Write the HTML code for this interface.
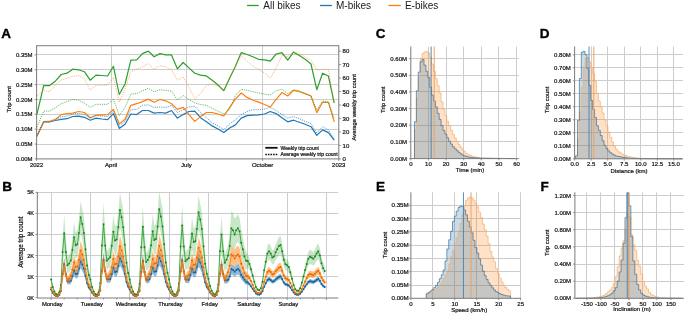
<!DOCTYPE html>
<html><head><meta charset="utf-8"><style>
html,body{margin:0;padding:0;background:#fff;}
svg{display:block;font-family:"Liberation Sans", sans-serif;will-change:transform;}
</style></head><body>
<svg width="685" height="315" viewBox="0 0 685 315">
<defs><clipPath id="clipA"><rect x="36.6" y="45.7" width="302.2" height="113.2"/></clipPath></defs>
<rect width="685" height="315" fill="#fff"/>
<line x1="247" y1="5.5" x2="258.7" y2="5.5" stroke="#2ca02c" stroke-width="1.3" />
<text x="263.3" y="9" font-size="10" text-anchor="start" font-weight="normal" fill="#1a1a1a" >All bikes</text>
<line x1="320" y1="5.5" x2="331.9" y2="5.5" stroke="#1f77b4" stroke-width="1.3" />
<text x="336" y="9" font-size="10" text-anchor="start" font-weight="normal" fill="#1a1a1a" >M-bikes</text>
<line x1="388.5" y1="5.5" x2="400.8" y2="5.5" stroke="#ff7f0e" stroke-width="1.3" />
<text x="404.9" y="9" font-size="10" text-anchor="start" font-weight="normal" fill="#1a1a1a" >E-bikes</text>
<text x="1.3" y="37.5" font-size="13.5" text-anchor="start" font-weight="bold" fill="#000" stroke="#000" stroke-width="0.35">A</text>
<text x="2.2" y="191" font-size="13.5" text-anchor="start" font-weight="bold" fill="#000" stroke="#000" stroke-width="0.35">B</text>
<text x="375.8" y="37.8" font-size="13.5" text-anchor="start" font-weight="bold" fill="#000" stroke="#000" stroke-width="0.35">C</text>
<text x="539.8" y="37.8" font-size="13.5" text-anchor="start" font-weight="bold" fill="#000" stroke="#000" stroke-width="0.35">D</text>
<text x="376.1" y="191.1" font-size="13.5" text-anchor="start" font-weight="bold" fill="#000" stroke="#000" stroke-width="0.35">E</text>
<text x="540.5" y="190.7" font-size="13.5" text-anchor="start" font-weight="bold" fill="#000" stroke="#000" stroke-width="0.35">F</text>
<line x1="36.6" y1="144.5" x2="338.8" y2="144.5" stroke="#cdcdcd" stroke-width="1" />
<line x1="36.6" y1="129.5" x2="338.8" y2="129.5" stroke="#cdcdcd" stroke-width="1" />
<line x1="36.6" y1="114.5" x2="338.8" y2="114.5" stroke="#cdcdcd" stroke-width="1" />
<line x1="36.6" y1="99.5" x2="338.8" y2="99.5" stroke="#cdcdcd" stroke-width="1" />
<line x1="36.6" y1="84.5" x2="338.8" y2="84.5" stroke="#cdcdcd" stroke-width="1" />
<line x1="36.6" y1="69.5" x2="338.8" y2="69.5" stroke="#cdcdcd" stroke-width="1" />
<line x1="36.6" y1="54.5" x2="338.8" y2="54.5" stroke="#cdcdcd" stroke-width="1" />
<line x1="111.5" y1="45.7" x2="111.5" y2="158.9" stroke="#cdcdcd" stroke-width="1" />
<line x1="186.5" y1="45.7" x2="186.5" y2="158.9" stroke="#cdcdcd" stroke-width="1" />
<line x1="262.5" y1="45.7" x2="262.5" y2="158.9" stroke="#cdcdcd" stroke-width="1" />
<rect x="36.6" y="45.7" width="302.2" height="113.2" fill="none" stroke="#7a7a7a" stroke-width="1"/>
<line x1="34.6" y1="158.9" x2="36.6" y2="158.9" stroke="#7a7a7a" stroke-width="0.8" />
<text x="32.6" y="161" font-size="6" text-anchor="end" font-weight="normal" fill="#1a1a1a" stroke="#1a1a1a" stroke-width="0.24" >0.00M</text>
<line x1="34.6" y1="144.05" x2="36.6" y2="144.05" stroke="#7a7a7a" stroke-width="0.8" />
<text x="32.6" y="146.15" font-size="6" text-anchor="end" font-weight="normal" fill="#1a1a1a" stroke="#1a1a1a" stroke-width="0.24" >0.05M</text>
<line x1="34.6" y1="129.19" x2="36.6" y2="129.19" stroke="#7a7a7a" stroke-width="0.8" />
<text x="32.6" y="131.29" font-size="6" text-anchor="end" font-weight="normal" fill="#1a1a1a" stroke="#1a1a1a" stroke-width="0.24" >0.10M</text>
<line x1="34.6" y1="114.33" x2="36.6" y2="114.33" stroke="#7a7a7a" stroke-width="0.8" />
<text x="32.6" y="116.43" font-size="6" text-anchor="end" font-weight="normal" fill="#1a1a1a" stroke="#1a1a1a" stroke-width="0.24" >0.15M</text>
<line x1="34.6" y1="99.48" x2="36.6" y2="99.48" stroke="#7a7a7a" stroke-width="0.8" />
<text x="32.6" y="101.58" font-size="6" text-anchor="end" font-weight="normal" fill="#1a1a1a" stroke="#1a1a1a" stroke-width="0.24" >0.20M</text>
<line x1="34.6" y1="84.62" x2="36.6" y2="84.62" stroke="#7a7a7a" stroke-width="0.8" />
<text x="32.6" y="86.72" font-size="6" text-anchor="end" font-weight="normal" fill="#1a1a1a" stroke="#1a1a1a" stroke-width="0.24" >0.25M</text>
<line x1="34.6" y1="69.77" x2="36.6" y2="69.77" stroke="#7a7a7a" stroke-width="0.8" />
<text x="32.6" y="71.87" font-size="6" text-anchor="end" font-weight="normal" fill="#1a1a1a" stroke="#1a1a1a" stroke-width="0.24" >0.30M</text>
<line x1="34.6" y1="54.91" x2="36.6" y2="54.91" stroke="#7a7a7a" stroke-width="0.8" />
<text x="32.6" y="57.01" font-size="6" text-anchor="end" font-weight="normal" fill="#1a1a1a" stroke="#1a1a1a" stroke-width="0.24" >0.35M</text>
<line x1="338.8" y1="158.9" x2="340.8" y2="158.9" stroke="#7a7a7a" stroke-width="0.8" />
<text x="342.6" y="161" font-size="6" text-anchor="start" font-weight="normal" fill="#1a1a1a" stroke="#1a1a1a" stroke-width="0.24" >0</text>
<line x1="338.8" y1="145.43" x2="340.8" y2="145.43" stroke="#7a7a7a" stroke-width="0.8" />
<text x="342.6" y="147.53" font-size="6" text-anchor="start" font-weight="normal" fill="#1a1a1a" stroke="#1a1a1a" stroke-width="0.24" >10</text>
<line x1="338.8" y1="131.95" x2="340.8" y2="131.95" stroke="#7a7a7a" stroke-width="0.8" />
<text x="342.6" y="134.05" font-size="6" text-anchor="start" font-weight="normal" fill="#1a1a1a" stroke="#1a1a1a" stroke-width="0.24" >20</text>
<line x1="338.8" y1="118.48" x2="340.8" y2="118.48" stroke="#7a7a7a" stroke-width="0.8" />
<text x="342.6" y="120.58" font-size="6" text-anchor="start" font-weight="normal" fill="#1a1a1a" stroke="#1a1a1a" stroke-width="0.24" >30</text>
<line x1="338.8" y1="105" x2="340.8" y2="105" stroke="#7a7a7a" stroke-width="0.8" />
<text x="342.6" y="107.1" font-size="6" text-anchor="start" font-weight="normal" fill="#1a1a1a" stroke="#1a1a1a" stroke-width="0.24" >40</text>
<line x1="338.8" y1="91.53" x2="340.8" y2="91.53" stroke="#7a7a7a" stroke-width="0.8" />
<text x="342.6" y="93.62" font-size="6" text-anchor="start" font-weight="normal" fill="#1a1a1a" stroke="#1a1a1a" stroke-width="0.24" >50</text>
<line x1="338.8" y1="78.05" x2="340.8" y2="78.05" stroke="#7a7a7a" stroke-width="0.8" />
<text x="342.6" y="80.15" font-size="6" text-anchor="start" font-weight="normal" fill="#1a1a1a" stroke="#1a1a1a" stroke-width="0.24" >60</text>
<line x1="338.8" y1="64.58" x2="340.8" y2="64.58" stroke="#7a7a7a" stroke-width="0.8" />
<text x="342.6" y="66.68" font-size="6" text-anchor="start" font-weight="normal" fill="#1a1a1a" stroke="#1a1a1a" stroke-width="0.24" >70</text>
<line x1="338.8" y1="51.1" x2="340.8" y2="51.1" stroke="#7a7a7a" stroke-width="0.8" />
<text x="342.6" y="53.2" font-size="6" text-anchor="start" font-weight="normal" fill="#1a1a1a" stroke="#1a1a1a" stroke-width="0.24" >80</text>
<line x1="36.6" y1="158.9" x2="36.6" y2="160.9" stroke="#7a7a7a" stroke-width="0.8" />
<text x="36.6" y="166.7" font-size="6" text-anchor="middle" font-weight="normal" fill="#1a1a1a" stroke="#1a1a1a" stroke-width="0.24" >2022</text>
<line x1="111.12" y1="158.9" x2="111.12" y2="160.9" stroke="#7a7a7a" stroke-width="0.8" />
<text x="111.12" y="166.7" font-size="6" text-anchor="middle" font-weight="normal" fill="#1a1a1a" stroke="#1a1a1a" stroke-width="0.24" >April</text>
<line x1="186.46" y1="158.9" x2="186.46" y2="160.9" stroke="#7a7a7a" stroke-width="0.8" />
<text x="186.46" y="166.7" font-size="6" text-anchor="middle" font-weight="normal" fill="#1a1a1a" stroke="#1a1a1a" stroke-width="0.24" >July</text>
<line x1="262.63" y1="158.9" x2="262.63" y2="160.9" stroke="#7a7a7a" stroke-width="0.8" />
<text x="262.63" y="166.7" font-size="6" text-anchor="middle" font-weight="normal" fill="#1a1a1a" stroke="#1a1a1a" stroke-width="0.24" >October</text>
<line x1="338.8" y1="158.9" x2="338.8" y2="160.9" stroke="#7a7a7a" stroke-width="0.8" />
<text x="338.8" y="166.7" font-size="6" text-anchor="middle" font-weight="normal" fill="#1a1a1a" stroke="#1a1a1a" stroke-width="0.24" >2023</text>
<text x="10.6" y="99.3" font-size="6" text-anchor="middle" font-weight="normal" fill="#1a1a1a" stroke="#1a1a1a" stroke-width="0.24" transform="rotate(-90 10.6 99.3)" >Trip count</text>
<text x="355.8" y="107.3" font-size="5.8" text-anchor="middle" font-weight="normal" fill="#1a1a1a" stroke="#1a1a1a" stroke-width="0.24" transform="rotate(-90 355.8 107.3)" >Average weekly trip count</text>
<g clip-path="url(#clipA)">
<polyline points="36.9,136.2 43.71,121.8 49.52,121.8 55.33,120.5 61.14,119.3 66.95,118.7 72.76,116.5 78.57,116.2 84.38,117.3 90.19,120.2 96,118.1 101.81,119 107.62,119.7 113.43,113.6 119.24,128.4 125.05,124.3 130.86,114 136.67,114.6 142.48,110.5 148.29,110.5 154.1,113.1 159.91,112.5 165.72,113.1 171.53,110.5 177.34,118.1 183.15,114.6 188.96,111.5 194.77,111.1 200.58,117.7 206.39,121.8 212.2,125.9 218.01,129 223.82,132.5 229.63,128 235.44,124.9 241.25,118.1 247.06,115.6 252.87,115.2 258.68,114.8 264.49,114 270.3,111.5 276.11,113.6 281.92,117.7 287.73,121.8 293.54,120.2 299.35,122.2 305.16,124.3 310.97,126.7 316.78,135.4 322.59,129.9 328.4,132.6 334.21,140.2" fill="none" stroke="#1f77b4" stroke-width="1.2" stroke-linejoin="round" />
<polyline points="36.9,136.2 43.71,121.8 49.52,121.8 55.33,119.7 61.14,114.6 66.95,113.5 72.76,113.1 78.57,111.5 84.38,112.5 90.19,117.7 96,115.2 101.81,114.8 107.62,114.6 113.43,109.4 119.24,123.9 125.05,119.3 130.86,105.3 136.67,103.7 142.48,101.6 148.29,99.1 154.1,102.2 159.91,99.5 165.72,100.8 171.53,103.7 177.34,109.4 183.15,107.4 188.96,114.6 194.77,121.4 200.58,116.6 206.39,112.5 212.2,112.5 218.01,114 223.82,116 229.63,107.4 235.44,99.1 241.25,93 247.06,97.4 252.87,100.2 258.68,102.1 264.49,104.5 270.3,107 276.11,99.3 281.92,92.6 287.73,96 293.54,90.3 299.35,91.7 305.16,93.6 310.97,96 316.78,112.6 322.59,102.3 328.4,102.3 334.21,121.9" fill="none" stroke="#ff7f0e" stroke-width="1.2" stroke-linejoin="round" />
<polyline points="36.9,114.3 43.71,85.5 49.52,85.6 55.33,81.2 61.14,74.5 66.95,73.2 72.76,69.2 78.57,69.8 84.38,71.7 90.19,80.2 96,75.1 101.81,75.5 107.62,76 113.43,66.3 119.24,94.5 125.05,84 130.86,60.2 136.67,59.9 142.48,53.6 148.29,51.1 154.1,56.8 159.91,53.6 165.72,54.9 171.53,54.9 177.34,68.8 183.15,62.5 188.96,67.9 194.77,73.2 200.58,75.1 206.39,75.9 212.2,80.2 218.01,85 223.82,90.7 229.63,78.3 235.44,66.3 241.25,52.6 247.06,54.5 252.87,56.8 258.68,59.3 264.49,59.9 270.3,61.2 276.11,54 281.92,52.6 287.73,60.2 293.54,52.2 299.35,55.5 305.16,59.3 310.97,64 316.78,89.7 322.59,73.2 328.4,76 334.21,103.1" fill="none" stroke="#2ca02c" stroke-width="1.2" stroke-linejoin="round" />
<polyline points="36.9,136 43.71,121.5 49.52,121 55.33,119 61.14,117 66.95,116 72.76,114 78.57,113.5 84.38,114.6 90.19,118 96,115.5 101.81,116 107.62,116.5 113.43,111.5 119.24,125.9 125.05,121.4 130.86,109.8 136.67,109.4 142.48,105.3 148.29,104.9 154.1,107.4 159.91,107 165.72,107.4 171.53,105.3 177.34,112.5 183.15,109.8 188.96,107 194.77,106.3 200.58,112.5 206.39,117.7 212.2,122.8 218.01,125.9 223.82,129.6 229.63,123.9 235.44,119.7 241.25,114.6 247.06,111.5 252.87,109.8 258.68,109.8 264.49,109 270.3,107.4 276.11,110.5 281.92,114.6 287.73,118.1 293.54,116.6 299.35,118.7 305.16,121.4 310.97,123.5 316.78,133 322.59,126.7 328.4,129.9 334.21,139.4" fill="none" stroke="#1f77b4" stroke-width="0.9" stroke-linejoin="round" stroke-dasharray="1.1,1.1" stroke-opacity="0.85"/>
<polyline points="36.9,127.1 43.71,111.1 49.52,111.1 55.33,107.8 61.14,103.7 66.95,101.6 72.76,99.5 78.57,100.2 84.38,103.2 90.19,107.4 96,104.3 101.81,104.3 107.62,104.3 113.43,99.2 119.24,115.6 125.05,107.4 130.86,94.1 136.67,93.6 142.48,90.7 148.29,88.4 154.1,91.7 159.91,89.8 165.72,90.3 171.53,91.1 177.34,100.2 183.15,95.5 188.96,99.7 194.77,102.9 200.58,104.6 206.39,105.3 212.2,108.4 218.01,111.1 223.82,114 229.63,109.4 235.44,95.5 241.25,89.2 247.06,90.3 252.87,91.7 258.68,93 264.49,94.1 270.3,94.9 276.11,90.7 281.92,89.2 287.73,93.6 293.54,89.8 299.35,90.7 305.16,93.6 310.97,96 316.78,110 322.59,101 328.4,102 334.21,118" fill="none" stroke="#2ca02c" stroke-width="0.9" stroke-linejoin="round" stroke-dasharray="1.1,1.1" stroke-opacity="0.85"/>
<polyline points="36.9,96 43.71,90.7 49.52,91.7 55.33,85 61.14,80.2 66.95,78 72.76,76.4 78.57,75.5 84.38,79.3 90.19,90.1 96,85.4 101.81,85.2 107.62,85 113.43,77.5 119.24,102.1 125.05,88.8 130.86,71.7 136.67,68.8 142.48,66.9 148.29,63.7 154.1,69.4 159.91,65.6 165.72,66.9 171.53,69.8 177.34,80.2 183.15,77 188.96,87.5 194.77,98.7 200.58,93.6 206.39,85.4 212.2,84 218.01,86 223.82,89.8 229.63,77.4 235.44,66 241.25,55.5 247.06,61.2 252.87,66 258.68,69.4 264.49,73 270.3,78.3 276.11,67.9 281.92,55.5 287.73,56.5 293.54,51.7 299.35,53.6 305.16,56.8 310.97,60.2 316.78,70 322.59,69.4 328.4,69.4 334.21,103" fill="none" stroke="#ff7f0e" stroke-width="0.9" stroke-linejoin="round" stroke-dasharray="1.1,1.1" stroke-opacity="0.65"/>
</g>
<line x1="265.3" y1="147.8" x2="277.6" y2="147.8" stroke="#111" stroke-width="1.8" />
<text x="280.6" y="149.9" font-size="5" text-anchor="start" font-weight="normal" fill="#1a1a1a" stroke="#1a1a1a" stroke-width="0.24" >Weekly trip count</text>
<line x1="265.3" y1="154.5" x2="277.6" y2="154.5" stroke="#111" stroke-width="1.3" stroke-dasharray="1.6,1"/>
<text x="280.6" y="156.4" font-size="5" text-anchor="start" font-weight="normal" fill="#1a1a1a" stroke="#1a1a1a" stroke-width="0.24" >Average weekly trip count</text>
<line x1="37.3" y1="276.5" x2="338.3" y2="276.5" stroke="#cdcdcd" stroke-width="1" />
<line x1="37.3" y1="255.5" x2="338.3" y2="255.5" stroke="#cdcdcd" stroke-width="1" />
<line x1="37.3" y1="234.5" x2="338.3" y2="234.5" stroke="#cdcdcd" stroke-width="1" />
<line x1="37.3" y1="213.5" x2="338.3" y2="213.5" stroke="#cdcdcd" stroke-width="1" />
<line x1="37.3" y1="192.5" x2="338.3" y2="192.5" stroke="#cdcdcd" stroke-width="1" />
<line x1="51.5" y1="192" x2="51.5" y2="298" stroke="#cdcdcd" stroke-width="1" />
<line x1="90.5" y1="192" x2="90.5" y2="298" stroke="#cdcdcd" stroke-width="1" />
<line x1="129.5" y1="192" x2="129.5" y2="298" stroke="#cdcdcd" stroke-width="1" />
<line x1="169.5" y1="192" x2="169.5" y2="298" stroke="#cdcdcd" stroke-width="1" />
<line x1="208.5" y1="192" x2="208.5" y2="298" stroke="#cdcdcd" stroke-width="1" />
<line x1="247.5" y1="192" x2="247.5" y2="298" stroke="#cdcdcd" stroke-width="1" />
<line x1="287.5" y1="192" x2="287.5" y2="298" stroke="#cdcdcd" stroke-width="1" />
<line x1="326.5" y1="192" x2="326.5" y2="298" stroke="#cdcdcd" stroke-width="1" />
<line x1="37.3" y1="192" x2="37.3" y2="298" stroke="#7a7a7a" stroke-width="1" />
<line x1="37.3" y1="298" x2="338.3" y2="298" stroke="#7a7a7a" stroke-width="1" />
<line x1="35.5" y1="297.6" x2="37.3" y2="297.6" stroke="#7a7a7a" stroke-width="0.8" />
<text x="34.1" y="299.6" font-size="5.6" text-anchor="end" font-weight="normal" fill="#1a1a1a" stroke="#1a1a1a" stroke-width="0.24" >0K</text>
<line x1="35.5" y1="276.55" x2="37.3" y2="276.55" stroke="#7a7a7a" stroke-width="0.8" />
<text x="34.1" y="278.55" font-size="5.6" text-anchor="end" font-weight="normal" fill="#1a1a1a" stroke="#1a1a1a" stroke-width="0.24" >1K</text>
<line x1="35.5" y1="255.5" x2="37.3" y2="255.5" stroke="#7a7a7a" stroke-width="0.8" />
<text x="34.1" y="257.5" font-size="5.6" text-anchor="end" font-weight="normal" fill="#1a1a1a" stroke="#1a1a1a" stroke-width="0.24" >2K</text>
<line x1="35.5" y1="234.45" x2="37.3" y2="234.45" stroke="#7a7a7a" stroke-width="0.8" />
<text x="34.1" y="236.45" font-size="5.6" text-anchor="end" font-weight="normal" fill="#1a1a1a" stroke="#1a1a1a" stroke-width="0.24" >3K</text>
<line x1="35.5" y1="213.4" x2="37.3" y2="213.4" stroke="#7a7a7a" stroke-width="0.8" />
<text x="34.1" y="215.4" font-size="5.6" text-anchor="end" font-weight="normal" fill="#1a1a1a" stroke="#1a1a1a" stroke-width="0.24" >4K</text>
<line x1="35.5" y1="192.35" x2="37.3" y2="192.35" stroke="#7a7a7a" stroke-width="0.8" />
<text x="34.1" y="194.35" font-size="5.6" text-anchor="end" font-weight="normal" fill="#1a1a1a" stroke="#1a1a1a" stroke-width="0.24" >5K</text>
<line x1="51.1" y1="298" x2="51.1" y2="300" stroke="#7a7a7a" stroke-width="0.8" />
<line x1="64.21" y1="298" x2="64.21" y2="299.4" stroke="#7a7a7a" stroke-width="0.8" />
<line x1="77.32" y1="298" x2="77.32" y2="299.4" stroke="#7a7a7a" stroke-width="0.8" />
<line x1="90.43" y1="298" x2="90.43" y2="300" stroke="#7a7a7a" stroke-width="0.8" />
<line x1="103.54" y1="298" x2="103.54" y2="299.4" stroke="#7a7a7a" stroke-width="0.8" />
<line x1="116.65" y1="298" x2="116.65" y2="299.4" stroke="#7a7a7a" stroke-width="0.8" />
<line x1="129.76" y1="298" x2="129.76" y2="300" stroke="#7a7a7a" stroke-width="0.8" />
<line x1="142.87" y1="298" x2="142.87" y2="299.4" stroke="#7a7a7a" stroke-width="0.8" />
<line x1="155.98" y1="298" x2="155.98" y2="299.4" stroke="#7a7a7a" stroke-width="0.8" />
<line x1="169.09" y1="298" x2="169.09" y2="300" stroke="#7a7a7a" stroke-width="0.8" />
<line x1="182.2" y1="298" x2="182.2" y2="299.4" stroke="#7a7a7a" stroke-width="0.8" />
<line x1="195.31" y1="298" x2="195.31" y2="299.4" stroke="#7a7a7a" stroke-width="0.8" />
<line x1="208.42" y1="298" x2="208.42" y2="300" stroke="#7a7a7a" stroke-width="0.8" />
<line x1="221.53" y1="298" x2="221.53" y2="299.4" stroke="#7a7a7a" stroke-width="0.8" />
<line x1="234.64" y1="298" x2="234.64" y2="299.4" stroke="#7a7a7a" stroke-width="0.8" />
<line x1="247.75" y1="298" x2="247.75" y2="300" stroke="#7a7a7a" stroke-width="0.8" />
<line x1="260.86" y1="298" x2="260.86" y2="299.4" stroke="#7a7a7a" stroke-width="0.8" />
<line x1="273.97" y1="298" x2="273.97" y2="299.4" stroke="#7a7a7a" stroke-width="0.8" />
<line x1="287.08" y1="298" x2="287.08" y2="300" stroke="#7a7a7a" stroke-width="0.8" />
<line x1="300.19" y1="298" x2="300.19" y2="299.4" stroke="#7a7a7a" stroke-width="0.8" />
<line x1="313.3" y1="298" x2="313.3" y2="299.4" stroke="#7a7a7a" stroke-width="0.8" />
<line x1="326.41" y1="298" x2="326.41" y2="300" stroke="#7a7a7a" stroke-width="0.8" />
<text x="52.4" y="305.7" font-size="5.85" text-anchor="middle" font-weight="normal" fill="#1a1a1a" stroke="#1a1a1a" stroke-width="0.24" >Monday</text>
<text x="91.73" y="305.7" font-size="5.85" text-anchor="middle" font-weight="normal" fill="#1a1a1a" stroke="#1a1a1a" stroke-width="0.24" >Tuesday</text>
<text x="131.06" y="305.7" font-size="5.85" text-anchor="middle" font-weight="normal" fill="#1a1a1a" stroke="#1a1a1a" stroke-width="0.24" >Wednesday</text>
<text x="170.39" y="305.7" font-size="5.85" text-anchor="middle" font-weight="normal" fill="#1a1a1a" stroke="#1a1a1a" stroke-width="0.24" >Thursday</text>
<text x="209.72" y="305.7" font-size="5.85" text-anchor="middle" font-weight="normal" fill="#1a1a1a" stroke="#1a1a1a" stroke-width="0.24" >Friday</text>
<text x="249.05" y="305.7" font-size="5.85" text-anchor="middle" font-weight="normal" fill="#1a1a1a" stroke="#1a1a1a" stroke-width="0.24" >Saturday</text>
<text x="288.38" y="305.7" font-size="5.85" text-anchor="middle" font-weight="normal" fill="#1a1a1a" stroke="#1a1a1a" stroke-width="0.24" >Sunday</text>
<text x="23.4" y="242" font-size="6.3" text-anchor="middle" font-weight="normal" fill="#1a1a1a" stroke="#1a1a1a" stroke-width="0.24" transform="rotate(-90 23.4 242)" >Average trip count</text>
<polygon points="51.1,274.97 52.74,284.44 54.38,289.97 56.02,293.13 57.66,293.92 59.29,290.76 60.93,281.81 62.57,238.79 64.21,214.67 65.85,238.79 67.49,257.08 69.13,254.97 70.77,251.29 72.4,238.13 74.04,222.08 75.68,232.08 77.32,231.03 78.96,220.05 80.6,201.11 82.24,209.19 83.88,216.82 85.51,237.08 87.15,257.61 88.79,269.45 90.43,274.97 92.07,284.44 93.71,289.97 95.35,293.13 96.98,293.92 98.62,290.76 100.26,279.6 101.9,230.56 103.54,203.06 105.18,230.56 106.82,251.41 108.46,249.01 110.09,247.12 111.73,232.78 113.37,215.29 115.01,226.19 116.65,225.04 118.29,213.07 119.93,192.42 121.57,201.23 123.21,209.55 124.84,231.63 126.48,254.01 128.12,266.91 129.76,274.97 131.4,284.44 133.04,289.97 134.68,293.13 136.31,293.92 137.95,290.76 139.59,280.23 141.23,232.91 142.87,206.38 144.51,232.91 146.15,253.03 147.79,250.71 149.42,246.66 151.06,232.19 152.7,214.53 154.34,225.53 155.98,224.37 157.62,212.3 159.26,191.46 160.9,200.35 162.53,208.74 164.17,231.03 165.81,253.61 167.45,266.63 169.09,274.97 170.73,284.44 172.37,289.97 174.01,293.13 175.65,293.92 177.28,290.76 178.92,279.92 180.56,231.73 182.2,204.72 183.84,231.73 185.48,252.22 187.12,249.86 188.75,248.51 190.39,234.57 192.03,217.55 193.67,228.15 195.31,227.04 196.95,215.4 198.59,195.32 200.23,203.89 201.86,211.97 203.5,233.45 205.14,255.21 206.78,267.76 208.42,273.92 210.06,283.13 211.7,289.18 213.34,292.6 214.97,293.65 216.61,290.76 218.25,281.29 219.89,237.98 221.53,216.29 223.17,237.98 224.81,254.18 226.45,250.24 228.08,244.98 229.72,233.13 231.36,210.77 233,213.4 234.64,218.66 236.28,216.77 237.92,214.24 239.56,218.03 241.19,229.19 242.83,237.08 244.47,246.29 246.11,251.55 247.75,254.61 249.39,258.03 251.03,264.21 252.67,271.63 254.31,279.05 255.94,285.23 257.58,288.2 259.22,288.94 260.86,286.47 262.5,279.05 264.14,265.45 265.78,255.55 267.41,245.66 269.05,243.19 270.69,245.66 272.33,250.61 273.97,249.37 275.61,244.42 277.25,240.71 278.89,237 280.52,235.77 282.16,243.19 283.8,253.08 285.44,258.52 287.08,259.69 288.72,261.74 290.36,267.92 292,275.34 293.63,282.76 295.27,287.71 296.91,289.44 298.55,289.44 300.19,286.47 301.83,280.29 303.47,272.87 305.11,265.2 306.75,258.03 308.38,251.84 310.02,249.62 311.66,250.61 313.3,252.09 314.94,249.37 316.58,245.66 318.22,243.19 319.86,248.13 321.49,257.28 323.13,262.97 324.77,266.44 324.77,275.72 323.13,273.29 321.49,269.29 319.86,262.87 318.22,259.39 316.58,261.13 314.94,263.74 313.3,265.65 311.66,264.6 310.02,263.91 308.38,265.47 306.75,269.81 305.11,274.85 303.47,280.23 301.83,285.44 300.19,289.79 298.55,291.87 296.91,291.87 295.27,290.65 293.63,287.18 292,281.97 290.36,276.76 288.72,272.42 287.08,270.98 285.44,270.16 283.8,266.34 282.16,259.39 280.52,254.18 278.89,255.05 277.25,257.66 275.61,260.26 273.97,263.74 272.33,264.6 270.69,261.13 269.05,259.39 267.41,261.13 265.78,268.08 264.14,275.02 262.5,284.58 260.86,289.79 259.22,291.52 257.58,291 255.94,288.92 254.31,284.58 252.67,279.37 251.03,274.16 249.39,269.81 247.75,267.42 246.11,269.97 244.47,266.81 242.83,261.29 241.19,256.55 239.56,244.55 237.92,242.03 236.28,243.71 234.64,250.24 233,247.08 231.36,245.5 229.72,258.92 228.08,266.03 226.45,269.18 224.81,271.55 223.17,264.6 221.53,252.61 219.89,264.6 218.25,287.81 216.61,293.5 214.97,295.23 213.34,294.6 211.7,292.55 210.06,288.92 208.42,283.39 206.78,279.69 205.14,272.16 203.5,259.11 201.86,246.22 200.23,235.12 198.59,229.41 196.95,242.8 195.31,255.26 193.67,255.93 192.03,249.57 190.39,259.78 188.75,268.15 187.12,268.96 185.48,270.37 183.84,261.15 182.2,246.2 180.56,261.15 178.92,286.99 177.28,293.5 175.65,295.39 174.01,294.92 172.37,293.02 170.73,289.71 169.09,284.02 167.45,279.02 165.81,271.2 164.17,257.66 162.53,244.29 160.9,232.77 159.26,226.84 157.62,240.73 155.98,253.66 154.34,254.36 152.7,247.76 151.06,258.35 149.42,267.04 147.79,269.47 146.15,270.86 144.51,261.8 142.87,247.12 141.23,261.8 139.59,287.18 137.95,293.5 136.31,295.39 134.68,294.92 133.04,293.02 131.4,289.71 129.76,284.02 128.12,279.19 126.48,271.44 124.84,258.02 123.21,244.77 121.57,233.36 119.93,227.48 118.29,241.25 116.65,254.06 115.01,254.75 113.37,248.21 111.73,258.71 110.09,267.31 108.46,268.44 106.82,269.88 105.18,260.5 103.54,245.28 101.9,260.5 100.26,286.8 98.62,293.5 96.98,295.39 95.35,294.92 93.71,293.02 92.07,289.71 90.43,284.02 88.79,280.71 87.15,273.6 85.51,261.29 83.88,249.13 82.24,238.66 80.6,233.27 78.96,245.9 77.32,257.66 75.68,258.29 74.04,252.29 72.4,261.92 70.77,269.81 69.13,272.02 67.49,273.29 65.85,265.05 64.21,251.71 62.57,265.05 60.93,288.13 59.29,293.5 57.66,295.39 56.02,294.92 54.38,293.02 52.74,289.71 51.1,284.02" fill="#2ca02c" stroke="none" fill-opacity="0.26"/>
<polyline points="51.1,279.5 52.74,287.08 54.38,291.5 56.02,294.02 57.66,294.65 59.29,292.13 60.93,284.97 62.57,251.92 64.21,233.19 65.85,251.92 67.49,265.18 69.13,263.5 70.77,260.55 72.4,250.03 74.04,237.19 75.68,245.19 77.32,244.34 78.96,232.98 80.6,217.19 82.24,223.93 83.88,232.98 85.51,249.19 87.15,265.6 88.79,275.08 90.43,279.5 92.07,287.08 93.71,291.5 95.35,294.02 96.98,294.65 98.62,292.13 100.26,283.2 101.9,245.53 103.54,224.17 105.18,245.53 106.82,260.64 108.46,258.72 110.09,257.22 111.73,245.75 113.37,231.75 115.01,240.47 116.65,239.55 118.29,227.16 119.93,209.95 121.57,217.29 123.21,227.16 124.84,244.83 126.48,262.72 128.12,273.05 129.76,279.5 131.4,287.08 133.04,291.5 134.68,294.02 136.31,294.65 137.95,292.13 139.59,283.71 141.23,247.35 142.87,226.75 144.51,247.35 146.15,261.94 147.79,260.09 149.42,256.85 151.06,245.27 152.7,231.15 154.34,239.94 155.98,239.02 157.62,226.51 159.26,209.15 160.9,216.56 162.53,226.51 164.17,244.34 165.81,262.4 167.45,272.82 169.09,279.5 170.73,287.08 172.37,291.5 174.01,294.02 175.65,294.65 177.28,292.13 178.92,283.45 180.56,246.44 182.2,225.46 183.84,246.44 185.48,261.29 187.12,259.41 188.75,258.33 190.39,247.17 192.03,233.56 193.67,242.04 195.31,241.15 196.95,229.1 198.59,212.36 200.23,219.5 201.86,229.1 203.5,246.28 205.14,263.68 206.78,273.73 208.42,278.66 210.06,286.02 211.7,290.86 213.34,293.6 214.97,294.44 216.61,292.13 218.25,284.55 219.89,251.29 221.53,234.45 223.17,251.29 224.81,262.87 226.45,259.71 228.08,255.5 229.72,246.03 231.36,228.14 233,230.24 234.64,234.45 236.28,230.24 237.92,228.14 239.56,231.29 241.19,242.87 242.83,249.19 244.47,256.55 246.11,260.76 247.75,261.02 249.39,263.92 251.03,269.18 252.67,275.5 254.31,281.81 255.94,287.08 257.58,289.6 259.22,290.23 260.86,288.13 262.5,281.81 264.14,270.24 265.78,261.81 267.41,253.4 269.05,251.29 270.69,253.4 272.33,257.61 273.97,256.55 275.61,252.34 277.25,249.19 278.89,246.03 280.52,244.98 282.16,251.29 283.8,259.71 285.44,264.34 287.08,265.34 288.72,267.08 290.36,272.34 292,278.66 293.63,284.97 295.27,289.18 296.91,290.65 298.55,290.65 300.19,288.13 301.83,282.87 303.47,276.55 305.11,270.02 306.75,263.92 308.38,258.66 310.02,256.76 311.66,257.61 313.3,258.87 314.94,256.55 316.58,253.4 318.22,251.29 319.86,255.5 321.49,263.29 323.13,268.13 324.77,271.08" fill="none" stroke="#2ca02c" stroke-width="0.85" stroke-linejoin="round" />
<circle cx="51.1" cy="279.5" r="1.0" fill="#23802a"/>
<circle cx="52.74" cy="287.08" r="1.0" fill="#23802a"/>
<circle cx="54.38" cy="291.5" r="1.0" fill="#23802a"/>
<circle cx="56.02" cy="294.02" r="1.0" fill="#23802a"/>
<circle cx="57.66" cy="294.65" r="1.0" fill="#23802a"/>
<circle cx="59.29" cy="292.13" r="1.0" fill="#23802a"/>
<circle cx="60.93" cy="284.97" r="1.0" fill="#23802a"/>
<circle cx="62.57" cy="251.92" r="1.0" fill="#23802a"/>
<circle cx="64.21" cy="233.19" r="1.0" fill="#23802a"/>
<circle cx="65.85" cy="251.92" r="1.0" fill="#23802a"/>
<circle cx="67.49" cy="265.18" r="1.0" fill="#23802a"/>
<circle cx="69.13" cy="263.5" r="1.0" fill="#23802a"/>
<circle cx="70.77" cy="260.55" r="1.0" fill="#23802a"/>
<circle cx="72.4" cy="250.03" r="1.0" fill="#23802a"/>
<circle cx="74.04" cy="237.19" r="1.0" fill="#23802a"/>
<circle cx="75.68" cy="245.19" r="1.0" fill="#23802a"/>
<circle cx="77.32" cy="244.34" r="1.0" fill="#23802a"/>
<circle cx="78.96" cy="232.98" r="1.0" fill="#23802a"/>
<circle cx="80.6" cy="217.19" r="1.0" fill="#23802a"/>
<circle cx="82.24" cy="223.93" r="1.0" fill="#23802a"/>
<circle cx="83.88" cy="232.98" r="1.0" fill="#23802a"/>
<circle cx="85.51" cy="249.19" r="1.0" fill="#23802a"/>
<circle cx="87.15" cy="265.6" r="1.0" fill="#23802a"/>
<circle cx="88.79" cy="275.08" r="1.0" fill="#23802a"/>
<circle cx="90.43" cy="279.5" r="1.0" fill="#23802a"/>
<circle cx="92.07" cy="287.08" r="1.0" fill="#23802a"/>
<circle cx="93.71" cy="291.5" r="1.0" fill="#23802a"/>
<circle cx="95.35" cy="294.02" r="1.0" fill="#23802a"/>
<circle cx="96.98" cy="294.65" r="1.0" fill="#23802a"/>
<circle cx="98.62" cy="292.13" r="1.0" fill="#23802a"/>
<circle cx="100.26" cy="283.2" r="1.0" fill="#23802a"/>
<circle cx="101.9" cy="245.53" r="1.0" fill="#23802a"/>
<circle cx="103.54" cy="224.17" r="1.0" fill="#23802a"/>
<circle cx="105.18" cy="245.53" r="1.0" fill="#23802a"/>
<circle cx="106.82" cy="260.64" r="1.0" fill="#23802a"/>
<circle cx="108.46" cy="258.72" r="1.0" fill="#23802a"/>
<circle cx="110.09" cy="257.22" r="1.0" fill="#23802a"/>
<circle cx="111.73" cy="245.75" r="1.0" fill="#23802a"/>
<circle cx="113.37" cy="231.75" r="1.0" fill="#23802a"/>
<circle cx="115.01" cy="240.47" r="1.0" fill="#23802a"/>
<circle cx="116.65" cy="239.55" r="1.0" fill="#23802a"/>
<circle cx="118.29" cy="227.16" r="1.0" fill="#23802a"/>
<circle cx="119.93" cy="209.95" r="1.0" fill="#23802a"/>
<circle cx="121.57" cy="217.29" r="1.0" fill="#23802a"/>
<circle cx="123.21" cy="227.16" r="1.0" fill="#23802a"/>
<circle cx="124.84" cy="244.83" r="1.0" fill="#23802a"/>
<circle cx="126.48" cy="262.72" r="1.0" fill="#23802a"/>
<circle cx="128.12" cy="273.05" r="1.0" fill="#23802a"/>
<circle cx="129.76" cy="279.5" r="1.0" fill="#23802a"/>
<circle cx="131.4" cy="287.08" r="1.0" fill="#23802a"/>
<circle cx="133.04" cy="291.5" r="1.0" fill="#23802a"/>
<circle cx="134.68" cy="294.02" r="1.0" fill="#23802a"/>
<circle cx="136.31" cy="294.65" r="1.0" fill="#23802a"/>
<circle cx="137.95" cy="292.13" r="1.0" fill="#23802a"/>
<circle cx="139.59" cy="283.71" r="1.0" fill="#23802a"/>
<circle cx="141.23" cy="247.35" r="1.0" fill="#23802a"/>
<circle cx="142.87" cy="226.75" r="1.0" fill="#23802a"/>
<circle cx="144.51" cy="247.35" r="1.0" fill="#23802a"/>
<circle cx="146.15" cy="261.94" r="1.0" fill="#23802a"/>
<circle cx="147.79" cy="260.09" r="1.0" fill="#23802a"/>
<circle cx="149.42" cy="256.85" r="1.0" fill="#23802a"/>
<circle cx="151.06" cy="245.27" r="1.0" fill="#23802a"/>
<circle cx="152.7" cy="231.15" r="1.0" fill="#23802a"/>
<circle cx="154.34" cy="239.94" r="1.0" fill="#23802a"/>
<circle cx="155.98" cy="239.02" r="1.0" fill="#23802a"/>
<circle cx="157.62" cy="226.51" r="1.0" fill="#23802a"/>
<circle cx="159.26" cy="209.15" r="1.0" fill="#23802a"/>
<circle cx="160.9" cy="216.56" r="1.0" fill="#23802a"/>
<circle cx="162.53" cy="226.51" r="1.0" fill="#23802a"/>
<circle cx="164.17" cy="244.34" r="1.0" fill="#23802a"/>
<circle cx="165.81" cy="262.4" r="1.0" fill="#23802a"/>
<circle cx="167.45" cy="272.82" r="1.0" fill="#23802a"/>
<circle cx="169.09" cy="279.5" r="1.0" fill="#23802a"/>
<circle cx="170.73" cy="287.08" r="1.0" fill="#23802a"/>
<circle cx="172.37" cy="291.5" r="1.0" fill="#23802a"/>
<circle cx="174.01" cy="294.02" r="1.0" fill="#23802a"/>
<circle cx="175.65" cy="294.65" r="1.0" fill="#23802a"/>
<circle cx="177.28" cy="292.13" r="1.0" fill="#23802a"/>
<circle cx="178.92" cy="283.45" r="1.0" fill="#23802a"/>
<circle cx="180.56" cy="246.44" r="1.0" fill="#23802a"/>
<circle cx="182.2" cy="225.46" r="1.0" fill="#23802a"/>
<circle cx="183.84" cy="246.44" r="1.0" fill="#23802a"/>
<circle cx="185.48" cy="261.29" r="1.0" fill="#23802a"/>
<circle cx="187.12" cy="259.41" r="1.0" fill="#23802a"/>
<circle cx="188.75" cy="258.33" r="1.0" fill="#23802a"/>
<circle cx="190.39" cy="247.17" r="1.0" fill="#23802a"/>
<circle cx="192.03" cy="233.56" r="1.0" fill="#23802a"/>
<circle cx="193.67" cy="242.04" r="1.0" fill="#23802a"/>
<circle cx="195.31" cy="241.15" r="1.0" fill="#23802a"/>
<circle cx="196.95" cy="229.1" r="1.0" fill="#23802a"/>
<circle cx="198.59" cy="212.36" r="1.0" fill="#23802a"/>
<circle cx="200.23" cy="219.5" r="1.0" fill="#23802a"/>
<circle cx="201.86" cy="229.1" r="1.0" fill="#23802a"/>
<circle cx="203.5" cy="246.28" r="1.0" fill="#23802a"/>
<circle cx="205.14" cy="263.68" r="1.0" fill="#23802a"/>
<circle cx="206.78" cy="273.73" r="1.0" fill="#23802a"/>
<circle cx="208.42" cy="278.66" r="1.0" fill="#23802a"/>
<circle cx="210.06" cy="286.02" r="1.0" fill="#23802a"/>
<circle cx="211.7" cy="290.86" r="1.0" fill="#23802a"/>
<circle cx="213.34" cy="293.6" r="1.0" fill="#23802a"/>
<circle cx="214.97" cy="294.44" r="1.0" fill="#23802a"/>
<circle cx="216.61" cy="292.13" r="1.0" fill="#23802a"/>
<circle cx="218.25" cy="284.55" r="1.0" fill="#23802a"/>
<circle cx="219.89" cy="251.29" r="1.0" fill="#23802a"/>
<circle cx="221.53" cy="234.45" r="1.0" fill="#23802a"/>
<circle cx="223.17" cy="251.29" r="1.0" fill="#23802a"/>
<circle cx="224.81" cy="262.87" r="1.0" fill="#23802a"/>
<circle cx="226.45" cy="259.71" r="1.0" fill="#23802a"/>
<circle cx="228.08" cy="255.5" r="1.0" fill="#23802a"/>
<circle cx="229.72" cy="246.03" r="1.0" fill="#23802a"/>
<circle cx="231.36" cy="228.14" r="1.0" fill="#23802a"/>
<circle cx="233" cy="230.24" r="1.0" fill="#23802a"/>
<circle cx="234.64" cy="234.45" r="1.0" fill="#23802a"/>
<circle cx="236.28" cy="230.24" r="1.0" fill="#23802a"/>
<circle cx="237.92" cy="228.14" r="1.0" fill="#23802a"/>
<circle cx="239.56" cy="231.29" r="1.0" fill="#23802a"/>
<circle cx="241.19" cy="242.87" r="1.0" fill="#23802a"/>
<circle cx="242.83" cy="249.19" r="1.0" fill="#23802a"/>
<circle cx="244.47" cy="256.55" r="1.0" fill="#23802a"/>
<circle cx="246.11" cy="260.76" r="1.0" fill="#23802a"/>
<circle cx="247.75" cy="261.02" r="1.0" fill="#23802a"/>
<circle cx="249.39" cy="263.92" r="1.0" fill="#23802a"/>
<circle cx="251.03" cy="269.18" r="1.0" fill="#23802a"/>
<circle cx="252.67" cy="275.5" r="1.0" fill="#23802a"/>
<circle cx="254.31" cy="281.81" r="1.0" fill="#23802a"/>
<circle cx="255.94" cy="287.08" r="1.0" fill="#23802a"/>
<circle cx="257.58" cy="289.6" r="1.0" fill="#23802a"/>
<circle cx="259.22" cy="290.23" r="1.0" fill="#23802a"/>
<circle cx="260.86" cy="288.13" r="1.0" fill="#23802a"/>
<circle cx="262.5" cy="281.81" r="1.0" fill="#23802a"/>
<circle cx="264.14" cy="270.24" r="1.0" fill="#23802a"/>
<circle cx="265.78" cy="261.81" r="1.0" fill="#23802a"/>
<circle cx="267.41" cy="253.4" r="1.0" fill="#23802a"/>
<circle cx="269.05" cy="251.29" r="1.0" fill="#23802a"/>
<circle cx="270.69" cy="253.4" r="1.0" fill="#23802a"/>
<circle cx="272.33" cy="257.61" r="1.0" fill="#23802a"/>
<circle cx="273.97" cy="256.55" r="1.0" fill="#23802a"/>
<circle cx="275.61" cy="252.34" r="1.0" fill="#23802a"/>
<circle cx="277.25" cy="249.19" r="1.0" fill="#23802a"/>
<circle cx="278.89" cy="246.03" r="1.0" fill="#23802a"/>
<circle cx="280.52" cy="244.98" r="1.0" fill="#23802a"/>
<circle cx="282.16" cy="251.29" r="1.0" fill="#23802a"/>
<circle cx="283.8" cy="259.71" r="1.0" fill="#23802a"/>
<circle cx="285.44" cy="264.34" r="1.0" fill="#23802a"/>
<circle cx="287.08" cy="265.34" r="1.0" fill="#23802a"/>
<circle cx="288.72" cy="267.08" r="1.0" fill="#23802a"/>
<circle cx="290.36" cy="272.34" r="1.0" fill="#23802a"/>
<circle cx="292" cy="278.66" r="1.0" fill="#23802a"/>
<circle cx="293.63" cy="284.97" r="1.0" fill="#23802a"/>
<circle cx="295.27" cy="289.18" r="1.0" fill="#23802a"/>
<circle cx="296.91" cy="290.65" r="1.0" fill="#23802a"/>
<circle cx="298.55" cy="290.65" r="1.0" fill="#23802a"/>
<circle cx="300.19" cy="288.13" r="1.0" fill="#23802a"/>
<circle cx="301.83" cy="282.87" r="1.0" fill="#23802a"/>
<circle cx="303.47" cy="276.55" r="1.0" fill="#23802a"/>
<circle cx="305.11" cy="270.02" r="1.0" fill="#23802a"/>
<circle cx="306.75" cy="263.92" r="1.0" fill="#23802a"/>
<circle cx="308.38" cy="258.66" r="1.0" fill="#23802a"/>
<circle cx="310.02" cy="256.76" r="1.0" fill="#23802a"/>
<circle cx="311.66" cy="257.61" r="1.0" fill="#23802a"/>
<circle cx="313.3" cy="258.87" r="1.0" fill="#23802a"/>
<circle cx="314.94" cy="256.55" r="1.0" fill="#23802a"/>
<circle cx="316.58" cy="253.4" r="1.0" fill="#23802a"/>
<circle cx="318.22" cy="251.29" r="1.0" fill="#23802a"/>
<circle cx="319.86" cy="255.5" r="1.0" fill="#23802a"/>
<circle cx="321.49" cy="263.29" r="1.0" fill="#23802a"/>
<circle cx="323.13" cy="268.13" r="1.0" fill="#23802a"/>
<circle cx="324.77" cy="271.08" r="1.0" fill="#23802a"/>
<polygon points="51.1,287.91 52.74,291.96 54.38,294.33 56.02,295.68 57.66,296.01 59.29,294.53 60.93,290.11 62.57,269.57 64.21,257.74 65.85,269.57 67.49,278.38 69.13,278.45 70.77,277.57 72.4,272.12 74.04,265.25 75.68,269.53 77.32,269.08 78.96,262.99 80.6,254.54 82.24,258.15 83.88,262.99 85.51,271.67 87.15,280.47 88.79,285.54 90.43,287.91 92.07,291.96 93.71,294.33 95.35,295.68 96.98,296.01 98.62,294.53 100.26,289.07 101.9,265.65 103.54,252.16 105.18,265.65 106.82,275.69 108.46,275.77 110.09,275.77 111.73,269.83 113.37,262.34 115.01,267.01 116.65,266.51 118.29,259.88 119.93,250.66 121.57,254.6 123.21,259.88 124.84,269.34 126.48,278.92 128.12,284.45 129.76,287.91 131.4,291.96 133.04,294.33 134.68,295.68 136.31,296.01 137.95,294.53 139.59,289.36 141.23,266.77 142.87,253.76 144.51,266.77 146.15,276.46 147.79,276.54 149.42,275.56 151.06,269.58 152.7,262.01 154.34,266.73 155.98,266.23 157.62,259.53 159.26,250.23 160.9,254.2 162.53,259.53 164.17,269.08 165.81,278.75 167.45,284.33 169.09,287.91 170.73,291.96 172.37,294.33 174.01,295.68 175.65,296.01 177.28,294.53 178.92,289.21 180.56,266.21 182.2,252.96 183.84,266.21 185.48,276.08 187.12,276.15 188.75,276.37 190.39,270.6 192.03,263.31 193.67,267.85 195.31,267.37 196.95,260.92 198.59,251.96 200.23,255.78 201.86,260.92 203.5,270.12 205.14,279.44 206.78,284.81 208.42,287.45 210.06,291.4 211.7,293.99 213.34,295.46 214.97,295.89 216.61,294.53 218.25,289.86 219.89,269.18 221.53,258.52 223.17,269.18 224.81,277.11 226.45,276.89 228.08,276.21 229.72,272.28 231.36,263.71 233,264.74 234.64,266.79 236.28,264.74 237.92,263.71 239.56,265.25 241.19,270.73 242.83,273.26 244.47,276.38 246.11,278.67 247.75,280.37 249.39,282.22 251.03,284.72 252.67,287.58 254.31,290.45 255.94,292.83 257.58,293.97 259.22,294.26 260.86,293.31 262.5,290.45 264.14,285.2 265.78,281.38 267.41,277.57 269.05,276.61 270.69,277.57 272.33,279.47 273.97,279 275.61,277.09 277.25,275.66 278.89,274.23 280.52,273.75 282.16,276.61 283.8,280.43 285.44,282.53 287.08,282.98 288.72,283.77 290.36,286.15 292,289.01 293.63,291.88 295.27,293.78 296.91,294.45 298.55,294.45 300.19,293.31 301.83,290.92 303.47,288.06 305.11,285.1 306.75,282.34 308.38,279.95 310.02,279.09 311.66,279.47 313.3,280.05 314.94,279 316.58,277.57 318.22,276.61 319.86,278.52 321.49,282.05 323.13,284.24 324.77,285.58 324.77,288.4 323.13,287.38 321.49,285.7 319.86,283 318.22,281.54 316.58,282.27 314.94,283.36 313.3,284.17 311.66,283.73 310.02,283.44 308.38,284.09 306.75,285.92 305.11,288.04 303.47,290.3 301.83,292.49 300.19,294.31 298.55,295.19 296.91,295.19 295.27,294.68 293.63,293.22 292,291.03 290.36,288.84 288.72,287.01 287.08,286.41 285.44,286.07 283.8,284.46 282.16,281.54 280.52,279.35 278.89,279.71 277.25,280.81 275.61,281.9 273.97,283.36 272.33,283.73 270.69,282.27 269.05,281.54 267.41,282.27 265.78,285.19 264.14,288.11 262.5,292.12 260.86,294.31 259.22,295.04 257.58,294.83 255.94,293.95 254.31,292.12 252.67,289.93 251.03,287.74 249.39,285.83 247.75,284.42 246.11,284.71 244.47,283.16 242.83,281.03 241.19,279.31 239.56,275.58 237.92,274.53 236.28,275.23 234.64,276.63 233,275.23 231.36,274.53 229.72,280.37 228.08,283.04 226.45,283.5 224.81,283.66 223.17,278.26 221.53,271 219.89,278.26 218.25,292.33 216.61,295.51 214.97,296.44 213.34,296.14 211.7,295.14 210.06,293.38 208.42,290.69 206.78,288.9 205.14,285.24 203.5,278.89 201.86,272.63 200.23,269.13 198.59,266.53 196.95,272.63 195.31,277.02 193.67,277.35 192.03,274.26 190.39,279.22 188.75,283.15 187.12,283 185.48,282.95 183.84,276.23 182.2,267.21 180.56,276.23 178.92,291.89 177.28,295.51 175.65,296.52 174.01,296.3 172.37,295.37 170.73,293.76 169.09,291 167.45,288.57 165.81,284.77 164.17,278.19 162.53,271.69 160.9,268.06 159.26,265.36 157.62,271.69 155.98,276.25 154.34,276.58 152.7,273.38 151.06,278.53 149.42,282.6 147.79,283.26 146.15,283.21 144.51,276.61 142.87,267.76 141.23,276.61 139.59,291.99 137.95,295.51 136.31,296.52 134.68,296.3 133.04,295.37 131.4,293.76 129.76,291 128.12,288.65 126.48,284.89 124.84,278.36 123.21,271.92 121.57,268.33 119.93,265.65 118.29,271.92 116.65,276.44 115.01,276.78 113.37,273.6 111.73,278.7 110.09,282.74 108.46,282.74 106.82,282.69 105.18,275.85 103.54,266.67 101.9,275.85 100.26,291.79 98.62,295.51 96.98,296.52 95.35,296.3 93.71,295.37 92.07,293.76 90.43,291 88.79,289.39 87.15,285.94 85.51,279.95 83.88,274.04 82.24,270.75 80.6,268.29 78.96,274.04 77.32,278.19 75.68,278.49 74.04,275.58 72.4,280.26 70.77,283.96 69.13,284.57 67.49,284.52 65.85,278.52 64.21,270.47 62.57,278.52 60.93,292.5 59.29,295.51 57.66,296.52 56.02,296.3 54.38,295.37 52.74,293.76 51.1,291" fill="#1f77b4" stroke="none" fill-opacity="0.5"/>
<polyline points="51.1,289.45 52.74,292.86 54.38,294.85 56.02,295.99 57.66,296.26 59.29,295.02 60.93,291.31 62.57,274.05 64.21,264.11 65.85,274.05 67.49,281.45 69.13,281.51 70.77,280.77 72.4,276.19 74.04,270.41 75.68,274.01 77.32,273.63 78.96,268.52 80.6,261.42 82.24,264.45 83.88,268.52 85.51,275.81 87.15,283.2 88.79,287.46 90.43,289.45 92.07,292.86 93.71,294.85 95.35,295.99 96.98,296.26 98.62,295.02 100.26,290.43 101.9,270.75 103.54,259.42 105.18,270.75 106.82,279.19 108.46,279.26 110.09,279.25 111.73,274.27 113.37,267.97 115.01,271.89 116.65,271.48 118.29,265.9 119.93,258.16 121.57,261.46 123.21,265.9 124.84,273.85 126.48,281.91 128.12,286.55 129.76,289.45 131.4,292.86 133.04,294.85 134.68,295.99 136.31,296.26 137.95,295.02 139.59,290.68 141.23,271.69 142.87,260.76 144.51,271.69 146.15,279.84 147.79,279.9 149.42,279.08 151.06,274.05 152.7,267.7 154.34,271.65 155.98,271.24 157.62,265.61 159.26,257.8 160.9,261.13 162.53,265.61 164.17,273.63 165.81,281.76 167.45,286.45 169.09,289.45 170.73,292.86 172.37,294.85 174.01,295.99 175.65,296.26 177.28,295.02 178.92,290.55 180.56,271.22 182.2,260.09 183.84,271.22 185.48,279.51 187.12,279.58 188.75,279.76 190.39,274.91 192.03,268.78 193.67,272.6 195.31,272.2 196.95,266.77 198.59,259.24 200.23,262.46 201.86,266.77 203.5,274.51 205.14,282.34 206.78,286.86 208.42,289.07 210.06,292.39 211.7,294.57 213.34,295.8 214.97,296.17 216.61,295.02 218.25,291.1 219.89,273.72 221.53,264.76 223.17,273.72 224.81,280.39 226.45,280.19 228.08,279.63 229.72,276.33 231.36,269.12 233,269.98 234.64,271.71 236.28,269.98 237.92,269.12 239.56,270.41 241.19,275.02 242.83,277.14 244.47,279.77 246.11,281.69 247.75,282.39 249.39,284.02 251.03,286.23 252.67,288.76 254.31,291.29 255.94,293.39 257.58,294.4 259.22,294.65 260.86,293.81 262.5,291.29 264.14,286.65 265.78,283.29 267.41,279.92 269.05,279.08 270.69,279.92 272.33,281.6 273.97,281.18 275.61,279.5 277.25,278.23 278.89,276.97 280.52,276.55 282.16,279.08 283.8,282.44 285.44,284.3 287.08,284.7 288.72,285.39 290.36,287.5 292,290.02 293.63,292.55 295.27,294.23 296.91,294.82 298.55,294.82 300.19,293.81 301.83,291.71 303.47,289.18 305.11,286.57 306.75,284.13 308.38,282.02 310.02,281.27 311.66,281.6 313.3,282.11 314.94,281.18 316.58,279.92 318.22,279.08 319.86,280.76 321.49,283.88 323.13,285.81 324.77,286.99" fill="none" stroke="#1f77b4" stroke-width="0.85" stroke-linejoin="round" />
<circle cx="51.1" cy="289.45" r="1.0" fill="#1a5f92"/>
<circle cx="52.74" cy="292.86" r="1.0" fill="#1a5f92"/>
<circle cx="54.38" cy="294.85" r="1.0" fill="#1a5f92"/>
<circle cx="56.02" cy="295.99" r="1.0" fill="#1a5f92"/>
<circle cx="57.66" cy="296.26" r="1.0" fill="#1a5f92"/>
<circle cx="59.29" cy="295.02" r="1.0" fill="#1a5f92"/>
<circle cx="60.93" cy="291.31" r="1.0" fill="#1a5f92"/>
<circle cx="62.57" cy="274.05" r="1.0" fill="#1a5f92"/>
<circle cx="64.21" cy="264.11" r="1.0" fill="#1a5f92"/>
<circle cx="65.85" cy="274.05" r="1.0" fill="#1a5f92"/>
<circle cx="67.49" cy="281.45" r="1.0" fill="#1a5f92"/>
<circle cx="69.13" cy="281.51" r="1.0" fill="#1a5f92"/>
<circle cx="70.77" cy="280.77" r="1.0" fill="#1a5f92"/>
<circle cx="72.4" cy="276.19" r="1.0" fill="#1a5f92"/>
<circle cx="74.04" cy="270.41" r="1.0" fill="#1a5f92"/>
<circle cx="75.68" cy="274.01" r="1.0" fill="#1a5f92"/>
<circle cx="77.32" cy="273.63" r="1.0" fill="#1a5f92"/>
<circle cx="78.96" cy="268.52" r="1.0" fill="#1a5f92"/>
<circle cx="80.6" cy="261.42" r="1.0" fill="#1a5f92"/>
<circle cx="82.24" cy="264.45" r="1.0" fill="#1a5f92"/>
<circle cx="83.88" cy="268.52" r="1.0" fill="#1a5f92"/>
<circle cx="85.51" cy="275.81" r="1.0" fill="#1a5f92"/>
<circle cx="87.15" cy="283.2" r="1.0" fill="#1a5f92"/>
<circle cx="88.79" cy="287.46" r="1.0" fill="#1a5f92"/>
<circle cx="90.43" cy="289.45" r="1.0" fill="#1a5f92"/>
<circle cx="92.07" cy="292.86" r="1.0" fill="#1a5f92"/>
<circle cx="93.71" cy="294.85" r="1.0" fill="#1a5f92"/>
<circle cx="95.35" cy="295.99" r="1.0" fill="#1a5f92"/>
<circle cx="96.98" cy="296.26" r="1.0" fill="#1a5f92"/>
<circle cx="98.62" cy="295.02" r="1.0" fill="#1a5f92"/>
<circle cx="100.26" cy="290.43" r="1.0" fill="#1a5f92"/>
<circle cx="101.9" cy="270.75" r="1.0" fill="#1a5f92"/>
<circle cx="103.54" cy="259.42" r="1.0" fill="#1a5f92"/>
<circle cx="105.18" cy="270.75" r="1.0" fill="#1a5f92"/>
<circle cx="106.82" cy="279.19" r="1.0" fill="#1a5f92"/>
<circle cx="108.46" cy="279.26" r="1.0" fill="#1a5f92"/>
<circle cx="110.09" cy="279.25" r="1.0" fill="#1a5f92"/>
<circle cx="111.73" cy="274.27" r="1.0" fill="#1a5f92"/>
<circle cx="113.37" cy="267.97" r="1.0" fill="#1a5f92"/>
<circle cx="115.01" cy="271.89" r="1.0" fill="#1a5f92"/>
<circle cx="116.65" cy="271.48" r="1.0" fill="#1a5f92"/>
<circle cx="118.29" cy="265.9" r="1.0" fill="#1a5f92"/>
<circle cx="119.93" cy="258.16" r="1.0" fill="#1a5f92"/>
<circle cx="121.57" cy="261.46" r="1.0" fill="#1a5f92"/>
<circle cx="123.21" cy="265.9" r="1.0" fill="#1a5f92"/>
<circle cx="124.84" cy="273.85" r="1.0" fill="#1a5f92"/>
<circle cx="126.48" cy="281.91" r="1.0" fill="#1a5f92"/>
<circle cx="128.12" cy="286.55" r="1.0" fill="#1a5f92"/>
<circle cx="129.76" cy="289.45" r="1.0" fill="#1a5f92"/>
<circle cx="131.4" cy="292.86" r="1.0" fill="#1a5f92"/>
<circle cx="133.04" cy="294.85" r="1.0" fill="#1a5f92"/>
<circle cx="134.68" cy="295.99" r="1.0" fill="#1a5f92"/>
<circle cx="136.31" cy="296.26" r="1.0" fill="#1a5f92"/>
<circle cx="137.95" cy="295.02" r="1.0" fill="#1a5f92"/>
<circle cx="139.59" cy="290.68" r="1.0" fill="#1a5f92"/>
<circle cx="141.23" cy="271.69" r="1.0" fill="#1a5f92"/>
<circle cx="142.87" cy="260.76" r="1.0" fill="#1a5f92"/>
<circle cx="144.51" cy="271.69" r="1.0" fill="#1a5f92"/>
<circle cx="146.15" cy="279.84" r="1.0" fill="#1a5f92"/>
<circle cx="147.79" cy="279.9" r="1.0" fill="#1a5f92"/>
<circle cx="149.42" cy="279.08" r="1.0" fill="#1a5f92"/>
<circle cx="151.06" cy="274.05" r="1.0" fill="#1a5f92"/>
<circle cx="152.7" cy="267.7" r="1.0" fill="#1a5f92"/>
<circle cx="154.34" cy="271.65" r="1.0" fill="#1a5f92"/>
<circle cx="155.98" cy="271.24" r="1.0" fill="#1a5f92"/>
<circle cx="157.62" cy="265.61" r="1.0" fill="#1a5f92"/>
<circle cx="159.26" cy="257.8" r="1.0" fill="#1a5f92"/>
<circle cx="160.9" cy="261.13" r="1.0" fill="#1a5f92"/>
<circle cx="162.53" cy="265.61" r="1.0" fill="#1a5f92"/>
<circle cx="164.17" cy="273.63" r="1.0" fill="#1a5f92"/>
<circle cx="165.81" cy="281.76" r="1.0" fill="#1a5f92"/>
<circle cx="167.45" cy="286.45" r="1.0" fill="#1a5f92"/>
<circle cx="169.09" cy="289.45" r="1.0" fill="#1a5f92"/>
<circle cx="170.73" cy="292.86" r="1.0" fill="#1a5f92"/>
<circle cx="172.37" cy="294.85" r="1.0" fill="#1a5f92"/>
<circle cx="174.01" cy="295.99" r="1.0" fill="#1a5f92"/>
<circle cx="175.65" cy="296.26" r="1.0" fill="#1a5f92"/>
<circle cx="177.28" cy="295.02" r="1.0" fill="#1a5f92"/>
<circle cx="178.92" cy="290.55" r="1.0" fill="#1a5f92"/>
<circle cx="180.56" cy="271.22" r="1.0" fill="#1a5f92"/>
<circle cx="182.2" cy="260.09" r="1.0" fill="#1a5f92"/>
<circle cx="183.84" cy="271.22" r="1.0" fill="#1a5f92"/>
<circle cx="185.48" cy="279.51" r="1.0" fill="#1a5f92"/>
<circle cx="187.12" cy="279.58" r="1.0" fill="#1a5f92"/>
<circle cx="188.75" cy="279.76" r="1.0" fill="#1a5f92"/>
<circle cx="190.39" cy="274.91" r="1.0" fill="#1a5f92"/>
<circle cx="192.03" cy="268.78" r="1.0" fill="#1a5f92"/>
<circle cx="193.67" cy="272.6" r="1.0" fill="#1a5f92"/>
<circle cx="195.31" cy="272.2" r="1.0" fill="#1a5f92"/>
<circle cx="196.95" cy="266.77" r="1.0" fill="#1a5f92"/>
<circle cx="198.59" cy="259.24" r="1.0" fill="#1a5f92"/>
<circle cx="200.23" cy="262.46" r="1.0" fill="#1a5f92"/>
<circle cx="201.86" cy="266.77" r="1.0" fill="#1a5f92"/>
<circle cx="203.5" cy="274.51" r="1.0" fill="#1a5f92"/>
<circle cx="205.14" cy="282.34" r="1.0" fill="#1a5f92"/>
<circle cx="206.78" cy="286.86" r="1.0" fill="#1a5f92"/>
<circle cx="208.42" cy="289.07" r="1.0" fill="#1a5f92"/>
<circle cx="210.06" cy="292.39" r="1.0" fill="#1a5f92"/>
<circle cx="211.7" cy="294.57" r="1.0" fill="#1a5f92"/>
<circle cx="213.34" cy="295.8" r="1.0" fill="#1a5f92"/>
<circle cx="214.97" cy="296.17" r="1.0" fill="#1a5f92"/>
<circle cx="216.61" cy="295.02" r="1.0" fill="#1a5f92"/>
<circle cx="218.25" cy="291.1" r="1.0" fill="#1a5f92"/>
<circle cx="219.89" cy="273.72" r="1.0" fill="#1a5f92"/>
<circle cx="221.53" cy="264.76" r="1.0" fill="#1a5f92"/>
<circle cx="223.17" cy="273.72" r="1.0" fill="#1a5f92"/>
<circle cx="224.81" cy="280.39" r="1.0" fill="#1a5f92"/>
<circle cx="226.45" cy="280.19" r="1.0" fill="#1a5f92"/>
<circle cx="228.08" cy="279.63" r="1.0" fill="#1a5f92"/>
<circle cx="229.72" cy="276.33" r="1.0" fill="#1a5f92"/>
<circle cx="231.36" cy="269.12" r="1.0" fill="#1a5f92"/>
<circle cx="233" cy="269.98" r="1.0" fill="#1a5f92"/>
<circle cx="234.64" cy="271.71" r="1.0" fill="#1a5f92"/>
<circle cx="236.28" cy="269.98" r="1.0" fill="#1a5f92"/>
<circle cx="237.92" cy="269.12" r="1.0" fill="#1a5f92"/>
<circle cx="239.56" cy="270.41" r="1.0" fill="#1a5f92"/>
<circle cx="241.19" cy="275.02" r="1.0" fill="#1a5f92"/>
<circle cx="242.83" cy="277.14" r="1.0" fill="#1a5f92"/>
<circle cx="244.47" cy="279.77" r="1.0" fill="#1a5f92"/>
<circle cx="246.11" cy="281.69" r="1.0" fill="#1a5f92"/>
<circle cx="247.75" cy="282.39" r="1.0" fill="#1a5f92"/>
<circle cx="249.39" cy="284.02" r="1.0" fill="#1a5f92"/>
<circle cx="251.03" cy="286.23" r="1.0" fill="#1a5f92"/>
<circle cx="252.67" cy="288.76" r="1.0" fill="#1a5f92"/>
<circle cx="254.31" cy="291.29" r="1.0" fill="#1a5f92"/>
<circle cx="255.94" cy="293.39" r="1.0" fill="#1a5f92"/>
<circle cx="257.58" cy="294.4" r="1.0" fill="#1a5f92"/>
<circle cx="259.22" cy="294.65" r="1.0" fill="#1a5f92"/>
<circle cx="260.86" cy="293.81" r="1.0" fill="#1a5f92"/>
<circle cx="262.5" cy="291.29" r="1.0" fill="#1a5f92"/>
<circle cx="264.14" cy="286.65" r="1.0" fill="#1a5f92"/>
<circle cx="265.78" cy="283.29" r="1.0" fill="#1a5f92"/>
<circle cx="267.41" cy="279.92" r="1.0" fill="#1a5f92"/>
<circle cx="269.05" cy="279.08" r="1.0" fill="#1a5f92"/>
<circle cx="270.69" cy="279.92" r="1.0" fill="#1a5f92"/>
<circle cx="272.33" cy="281.6" r="1.0" fill="#1a5f92"/>
<circle cx="273.97" cy="281.18" r="1.0" fill="#1a5f92"/>
<circle cx="275.61" cy="279.5" r="1.0" fill="#1a5f92"/>
<circle cx="277.25" cy="278.23" r="1.0" fill="#1a5f92"/>
<circle cx="278.89" cy="276.97" r="1.0" fill="#1a5f92"/>
<circle cx="280.52" cy="276.55" r="1.0" fill="#1a5f92"/>
<circle cx="282.16" cy="279.08" r="1.0" fill="#1a5f92"/>
<circle cx="283.8" cy="282.44" r="1.0" fill="#1a5f92"/>
<circle cx="285.44" cy="284.3" r="1.0" fill="#1a5f92"/>
<circle cx="287.08" cy="284.7" r="1.0" fill="#1a5f92"/>
<circle cx="288.72" cy="285.39" r="1.0" fill="#1a5f92"/>
<circle cx="290.36" cy="287.5" r="1.0" fill="#1a5f92"/>
<circle cx="292" cy="290.02" r="1.0" fill="#1a5f92"/>
<circle cx="293.63" cy="292.55" r="1.0" fill="#1a5f92"/>
<circle cx="295.27" cy="294.23" r="1.0" fill="#1a5f92"/>
<circle cx="296.91" cy="294.82" r="1.0" fill="#1a5f92"/>
<circle cx="298.55" cy="294.82" r="1.0" fill="#1a5f92"/>
<circle cx="300.19" cy="293.81" r="1.0" fill="#1a5f92"/>
<circle cx="301.83" cy="291.71" r="1.0" fill="#1a5f92"/>
<circle cx="303.47" cy="289.18" r="1.0" fill="#1a5f92"/>
<circle cx="305.11" cy="286.57" r="1.0" fill="#1a5f92"/>
<circle cx="306.75" cy="284.13" r="1.0" fill="#1a5f92"/>
<circle cx="308.38" cy="282.02" r="1.0" fill="#1a5f92"/>
<circle cx="310.02" cy="281.27" r="1.0" fill="#1a5f92"/>
<circle cx="311.66" cy="281.6" r="1.0" fill="#1a5f92"/>
<circle cx="313.3" cy="282.11" r="1.0" fill="#1a5f92"/>
<circle cx="314.94" cy="281.18" r="1.0" fill="#1a5f92"/>
<circle cx="316.58" cy="279.92" r="1.0" fill="#1a5f92"/>
<circle cx="318.22" cy="279.08" r="1.0" fill="#1a5f92"/>
<circle cx="319.86" cy="280.76" r="1.0" fill="#1a5f92"/>
<circle cx="321.49" cy="283.88" r="1.0" fill="#1a5f92"/>
<circle cx="323.13" cy="285.81" r="1.0" fill="#1a5f92"/>
<circle cx="324.77" cy="286.99" r="1.0" fill="#1a5f92"/>
<polygon points="51.1,285.55 52.74,290.6 54.38,293.54 56.02,295.22 57.66,295.65 59.29,294.06 60.93,289.72 62.57,269.79 64.21,258.63 65.85,269.67 67.49,276.95 69.13,274.56 70.77,271.61 72.4,263.93 74.04,254.84 75.68,260.5 77.32,259.9 78.96,251.86 80.6,240.68 82.24,245.45 83.88,251.86 85.51,263.33 87.15,275.04 88.79,281.95 90.43,285.31 92.07,290.57 93.71,293.54 95.35,295.22 96.98,295.65 98.62,294.06 100.26,288.62 101.9,265.9 103.54,253.17 105.18,265.76 106.82,274.05 108.46,271.33 110.09,269.27 111.73,260.89 113.37,250.99 115.01,257.16 116.65,256.51 118.29,247.74 119.93,235.56 121.57,240.76 123.21,247.74 124.84,260.25 126.48,273.01 128.12,280.55 129.76,285.31 131.4,290.57 133.04,293.54 134.68,295.22 136.31,295.65 137.95,294.06 139.59,288.93 141.23,267.01 142.87,254.73 144.51,266.88 146.15,274.88 147.79,272.25 149.42,269.02 151.06,260.56 152.7,250.56 154.34,256.79 155.98,256.13 157.62,247.28 159.26,234.99 160.9,240.23 162.53,247.28 164.17,259.9 165.81,272.78 167.45,280.39 169.09,285.31 170.73,290.57 172.37,293.54 174.01,295.22 175.65,295.65 177.28,294.06 178.92,288.77 180.56,266.45 182.2,253.95 183.84,266.32 185.48,274.47 187.12,271.79 188.75,270.05 190.39,261.9 192.03,252.27 193.67,258.27 195.31,257.64 196.95,249.11 198.59,237.27 200.23,242.32 201.86,249.11 203.5,261.27 205.14,273.68 206.78,281.02 208.42,284.74 210.06,289.86 211.7,293.12 213.34,294.94 214.97,295.51 216.61,294.06 218.25,289.46 219.89,269.41 221.53,259.39 223.17,269.28 224.81,275.38 226.45,271.5 228.08,266.84 229.72,259.05 231.36,245.49 233,247.07 234.64,250.22 236.28,247.07 237.92,245.49 239.56,247.86 241.19,256.69 242.83,261.92 244.47,268.02 246.11,271.5 247.75,273.2 249.39,275.18 251.03,278.69 252.67,282.9 254.31,287.1 255.94,290.6 257.58,292.28 259.22,292.7 260.86,291.3 262.5,287.1 264.14,279.4 265.78,273.79 267.41,268.19 269.05,266.79 270.69,268.19 272.33,270.99 273.97,270.29 275.61,267.49 277.25,265.39 278.89,263.29 280.52,262.59 282.16,266.79 283.8,272.39 285.44,275.47 287.08,276.14 288.72,277.29 290.36,280.8 292,285 293.63,289.2 295.27,292 296.91,292.98 298.55,292.98 300.19,291.3 301.83,287.8 303.47,283.6 305.11,279.26 306.75,275.19 308.38,271.69 310.02,270.43 311.66,270.99 313.3,271.83 314.94,270.29 316.58,268.19 318.22,266.79 319.86,269.59 321.49,274.77 323.13,277.99 324.77,279.96 324.77,284.48 323.13,283.02 321.49,280.62 319.86,276.77 318.22,274.69 316.58,275.73 314.94,277.29 313.3,278.44 311.66,277.81 310.02,277.4 308.38,278.33 306.75,280.94 305.11,283.96 303.47,287.19 301.83,290.31 300.19,292.91 298.55,294.16 296.91,294.16 295.27,293.43 293.63,291.35 292,288.23 290.36,285.1 288.72,282.5 287.08,281.64 285.44,281.15 283.8,278.85 282.16,274.69 280.52,271.56 278.89,272.09 277.25,273.65 275.61,275.21 273.97,277.29 272.33,277.81 270.69,275.73 269.05,274.69 267.41,275.73 265.78,279.9 264.14,284.06 262.5,289.79 260.86,292.91 259.22,293.96 257.58,293.64 255.94,292.39 254.31,289.79 252.67,286.67 251.03,283.54 249.39,280.93 247.75,279.45 246.11,280.56 244.47,278.29 242.83,274.3 241.19,270.89 239.56,265.12 237.92,263.58 236.28,264.61 234.64,266.67 233,264.61 231.36,263.58 229.72,272.43 228.08,277.52 226.45,280.56 224.81,283.09 223.17,279.11 221.53,272.66 219.89,279.19 218.25,292.28 216.61,295.29 214.97,296.24 213.34,295.86 211.7,294.67 210.06,292.55 208.42,289.2 206.78,286.77 205.14,281.98 203.5,273.88 201.86,265.94 200.23,261.51 198.59,258.21 196.95,265.94 195.31,271.51 193.67,271.92 192.03,268 190.39,274.29 188.75,279.62 187.12,280.75 185.48,282.5 183.84,277.18 182.2,269.1 180.56,277.27 178.92,291.84 177.28,295.29 175.65,296.33 174.01,296.05 172.37,294.95 170.73,293.01 169.09,289.58 167.45,286.36 165.81,281.4 164.17,272.99 162.53,264.75 160.9,260.15 159.26,256.72 157.62,264.75 155.98,270.53 154.34,270.95 152.7,266.89 151.06,273.42 149.42,278.94 147.79,281.05 146.15,282.77 144.51,277.54 142.87,269.61 141.23,277.63 139.59,291.94 137.95,295.29 136.31,296.33 134.68,296.05 133.04,294.95 131.4,293.01 129.76,289.58 128.12,286.47 126.48,281.54 124.84,273.21 123.21,265.05 121.57,260.49 119.93,257.09 118.29,265.05 116.65,270.77 115.01,271.2 113.37,267.17 111.73,273.64 110.09,279.11 108.46,280.45 106.82,282.23 105.18,276.81 103.54,268.59 101.9,276.9 100.26,291.73 98.62,295.29 96.98,296.33 95.35,296.05 93.71,294.95 92.07,293.01 90.43,289.58 88.79,287.39 87.15,282.87 85.51,275.23 83.88,267.73 82.24,263.55 80.6,260.44 78.96,267.73 77.32,272.99 75.68,273.38 74.04,269.68 72.4,275.61 70.77,280.63 69.13,282.56 67.49,284.12 65.85,279.37 64.21,272.16 62.57,279.44 60.93,292.46 59.29,295.29 57.66,296.33 56.02,296.05 54.38,294.95 52.74,293.03 51.1,289.73" fill="#ff7f0e" stroke="none" fill-opacity="0.5"/>
<polyline points="51.1,287.64 52.74,291.81 54.38,294.24 56.02,295.63 57.66,295.99 59.29,294.68 60.93,291.09 62.57,274.62 64.21,265.39 65.85,274.52 67.49,280.53 69.13,278.56 70.77,276.12 72.4,269.77 74.04,262.26 75.68,266.94 77.32,266.44 78.96,259.8 80.6,250.56 82.24,254.5 83.88,259.8 85.51,269.28 87.15,278.95 88.79,284.67 90.43,287.45 92.07,291.79 93.71,294.24 95.35,295.63 96.98,295.99 98.62,294.68 100.26,290.18 101.9,271.4 103.54,260.88 105.18,271.29 106.82,278.14 108.46,275.89 110.09,274.19 111.73,267.27 113.37,259.08 115.01,264.18 116.65,263.64 118.29,256.39 119.93,246.33 121.57,250.62 123.21,256.39 124.84,266.73 126.48,277.27 128.12,283.51 129.76,287.45 131.4,291.79 133.04,294.24 134.68,295.63 136.31,295.99 137.95,294.68 139.59,290.44 141.23,272.32 142.87,262.17 144.51,272.21 146.15,278.82 147.79,276.65 149.42,273.98 151.06,266.99 152.7,258.72 154.34,263.87 155.98,263.33 157.62,256.01 159.26,245.86 160.9,250.19 162.53,256.01 164.17,266.44 165.81,277.09 167.45,283.38 169.09,287.45 170.73,291.79 172.37,294.24 174.01,295.63 175.65,295.99 177.28,294.68 178.92,290.31 180.56,271.86 182.2,261.53 183.84,271.75 185.48,278.48 187.12,276.27 188.75,274.84 190.39,268.1 192.03,260.14 193.67,265.1 195.31,264.58 196.95,257.53 198.59,247.74 200.23,251.91 201.86,257.53 203.5,267.58 205.14,277.83 206.78,283.89 208.42,286.97 210.06,291.21 211.7,293.9 213.34,295.4 214.97,295.87 216.61,294.68 218.25,290.87 219.89,274.3 221.53,266.03 223.17,274.2 224.81,279.24 226.45,276.03 228.08,272.18 229.72,265.74 231.36,254.53 233,255.84 234.64,258.45 236.28,255.84 237.92,254.53 239.56,256.49 241.19,263.79 242.83,268.11 244.47,273.15 246.11,276.03 247.75,276.32 249.39,278.06 251.03,281.12 252.67,284.78 254.31,288.44 255.94,291.5 257.58,292.96 259.22,293.33 260.86,292.11 262.5,288.44 264.14,281.73 265.78,276.84 267.41,271.96 269.05,270.74 270.69,271.96 272.33,274.4 273.97,273.79 275.61,271.35 277.25,269.52 278.89,267.69 280.52,267.08 282.16,270.74 283.8,275.62 285.44,278.31 287.08,278.89 288.72,279.9 290.36,282.95 292,286.61 293.63,290.27 295.27,292.72 296.91,293.57 298.55,293.57 300.19,292.11 301.83,289.05 303.47,285.39 305.11,281.61 306.75,278.07 308.38,275.01 310.02,273.91 311.66,274.4 313.3,275.14 314.94,273.79 316.58,271.96 318.22,270.74 319.86,273.18 321.49,277.7 323.13,280.51 324.77,282.22" fill="none" stroke="#ff7f0e" stroke-width="0.85" stroke-linejoin="round" />
<circle cx="51.1" cy="287.64" r="1.0" fill="#e06c00"/>
<circle cx="52.74" cy="291.81" r="1.0" fill="#e06c00"/>
<circle cx="54.38" cy="294.24" r="1.0" fill="#e06c00"/>
<circle cx="56.02" cy="295.63" r="1.0" fill="#e06c00"/>
<circle cx="57.66" cy="295.99" r="1.0" fill="#e06c00"/>
<circle cx="59.29" cy="294.68" r="1.0" fill="#e06c00"/>
<circle cx="60.93" cy="291.09" r="1.0" fill="#e06c00"/>
<circle cx="62.57" cy="274.62" r="1.0" fill="#e06c00"/>
<circle cx="64.21" cy="265.39" r="1.0" fill="#e06c00"/>
<circle cx="65.85" cy="274.52" r="1.0" fill="#e06c00"/>
<circle cx="67.49" cy="280.53" r="1.0" fill="#e06c00"/>
<circle cx="69.13" cy="278.56" r="1.0" fill="#e06c00"/>
<circle cx="70.77" cy="276.12" r="1.0" fill="#e06c00"/>
<circle cx="72.4" cy="269.77" r="1.0" fill="#e06c00"/>
<circle cx="74.04" cy="262.26" r="1.0" fill="#e06c00"/>
<circle cx="75.68" cy="266.94" r="1.0" fill="#e06c00"/>
<circle cx="77.32" cy="266.44" r="1.0" fill="#e06c00"/>
<circle cx="78.96" cy="259.8" r="1.0" fill="#e06c00"/>
<circle cx="80.6" cy="250.56" r="1.0" fill="#e06c00"/>
<circle cx="82.24" cy="254.5" r="1.0" fill="#e06c00"/>
<circle cx="83.88" cy="259.8" r="1.0" fill="#e06c00"/>
<circle cx="85.51" cy="269.28" r="1.0" fill="#e06c00"/>
<circle cx="87.15" cy="278.95" r="1.0" fill="#e06c00"/>
<circle cx="88.79" cy="284.67" r="1.0" fill="#e06c00"/>
<circle cx="90.43" cy="287.45" r="1.0" fill="#e06c00"/>
<circle cx="92.07" cy="291.79" r="1.0" fill="#e06c00"/>
<circle cx="93.71" cy="294.24" r="1.0" fill="#e06c00"/>
<circle cx="95.35" cy="295.63" r="1.0" fill="#e06c00"/>
<circle cx="96.98" cy="295.99" r="1.0" fill="#e06c00"/>
<circle cx="98.62" cy="294.68" r="1.0" fill="#e06c00"/>
<circle cx="100.26" cy="290.18" r="1.0" fill="#e06c00"/>
<circle cx="101.9" cy="271.4" r="1.0" fill="#e06c00"/>
<circle cx="103.54" cy="260.88" r="1.0" fill="#e06c00"/>
<circle cx="105.18" cy="271.29" r="1.0" fill="#e06c00"/>
<circle cx="106.82" cy="278.14" r="1.0" fill="#e06c00"/>
<circle cx="108.46" cy="275.89" r="1.0" fill="#e06c00"/>
<circle cx="110.09" cy="274.19" r="1.0" fill="#e06c00"/>
<circle cx="111.73" cy="267.27" r="1.0" fill="#e06c00"/>
<circle cx="113.37" cy="259.08" r="1.0" fill="#e06c00"/>
<circle cx="115.01" cy="264.18" r="1.0" fill="#e06c00"/>
<circle cx="116.65" cy="263.64" r="1.0" fill="#e06c00"/>
<circle cx="118.29" cy="256.39" r="1.0" fill="#e06c00"/>
<circle cx="119.93" cy="246.33" r="1.0" fill="#e06c00"/>
<circle cx="121.57" cy="250.62" r="1.0" fill="#e06c00"/>
<circle cx="123.21" cy="256.39" r="1.0" fill="#e06c00"/>
<circle cx="124.84" cy="266.73" r="1.0" fill="#e06c00"/>
<circle cx="126.48" cy="277.27" r="1.0" fill="#e06c00"/>
<circle cx="128.12" cy="283.51" r="1.0" fill="#e06c00"/>
<circle cx="129.76" cy="287.45" r="1.0" fill="#e06c00"/>
<circle cx="131.4" cy="291.79" r="1.0" fill="#e06c00"/>
<circle cx="133.04" cy="294.24" r="1.0" fill="#e06c00"/>
<circle cx="134.68" cy="295.63" r="1.0" fill="#e06c00"/>
<circle cx="136.31" cy="295.99" r="1.0" fill="#e06c00"/>
<circle cx="137.95" cy="294.68" r="1.0" fill="#e06c00"/>
<circle cx="139.59" cy="290.44" r="1.0" fill="#e06c00"/>
<circle cx="141.23" cy="272.32" r="1.0" fill="#e06c00"/>
<circle cx="142.87" cy="262.17" r="1.0" fill="#e06c00"/>
<circle cx="144.51" cy="272.21" r="1.0" fill="#e06c00"/>
<circle cx="146.15" cy="278.82" r="1.0" fill="#e06c00"/>
<circle cx="147.79" cy="276.65" r="1.0" fill="#e06c00"/>
<circle cx="149.42" cy="273.98" r="1.0" fill="#e06c00"/>
<circle cx="151.06" cy="266.99" r="1.0" fill="#e06c00"/>
<circle cx="152.7" cy="258.72" r="1.0" fill="#e06c00"/>
<circle cx="154.34" cy="263.87" r="1.0" fill="#e06c00"/>
<circle cx="155.98" cy="263.33" r="1.0" fill="#e06c00"/>
<circle cx="157.62" cy="256.01" r="1.0" fill="#e06c00"/>
<circle cx="159.26" cy="245.86" r="1.0" fill="#e06c00"/>
<circle cx="160.9" cy="250.19" r="1.0" fill="#e06c00"/>
<circle cx="162.53" cy="256.01" r="1.0" fill="#e06c00"/>
<circle cx="164.17" cy="266.44" r="1.0" fill="#e06c00"/>
<circle cx="165.81" cy="277.09" r="1.0" fill="#e06c00"/>
<circle cx="167.45" cy="283.38" r="1.0" fill="#e06c00"/>
<circle cx="169.09" cy="287.45" r="1.0" fill="#e06c00"/>
<circle cx="170.73" cy="291.79" r="1.0" fill="#e06c00"/>
<circle cx="172.37" cy="294.24" r="1.0" fill="#e06c00"/>
<circle cx="174.01" cy="295.63" r="1.0" fill="#e06c00"/>
<circle cx="175.65" cy="295.99" r="1.0" fill="#e06c00"/>
<circle cx="177.28" cy="294.68" r="1.0" fill="#e06c00"/>
<circle cx="178.92" cy="290.31" r="1.0" fill="#e06c00"/>
<circle cx="180.56" cy="271.86" r="1.0" fill="#e06c00"/>
<circle cx="182.2" cy="261.53" r="1.0" fill="#e06c00"/>
<circle cx="183.84" cy="271.75" r="1.0" fill="#e06c00"/>
<circle cx="185.48" cy="278.48" r="1.0" fill="#e06c00"/>
<circle cx="187.12" cy="276.27" r="1.0" fill="#e06c00"/>
<circle cx="188.75" cy="274.84" r="1.0" fill="#e06c00"/>
<circle cx="190.39" cy="268.1" r="1.0" fill="#e06c00"/>
<circle cx="192.03" cy="260.14" r="1.0" fill="#e06c00"/>
<circle cx="193.67" cy="265.1" r="1.0" fill="#e06c00"/>
<circle cx="195.31" cy="264.58" r="1.0" fill="#e06c00"/>
<circle cx="196.95" cy="257.53" r="1.0" fill="#e06c00"/>
<circle cx="198.59" cy="247.74" r="1.0" fill="#e06c00"/>
<circle cx="200.23" cy="251.91" r="1.0" fill="#e06c00"/>
<circle cx="201.86" cy="257.53" r="1.0" fill="#e06c00"/>
<circle cx="203.5" cy="267.58" r="1.0" fill="#e06c00"/>
<circle cx="205.14" cy="277.83" r="1.0" fill="#e06c00"/>
<circle cx="206.78" cy="283.89" r="1.0" fill="#e06c00"/>
<circle cx="208.42" cy="286.97" r="1.0" fill="#e06c00"/>
<circle cx="210.06" cy="291.21" r="1.0" fill="#e06c00"/>
<circle cx="211.7" cy="293.9" r="1.0" fill="#e06c00"/>
<circle cx="213.34" cy="295.4" r="1.0" fill="#e06c00"/>
<circle cx="214.97" cy="295.87" r="1.0" fill="#e06c00"/>
<circle cx="216.61" cy="294.68" r="1.0" fill="#e06c00"/>
<circle cx="218.25" cy="290.87" r="1.0" fill="#e06c00"/>
<circle cx="219.89" cy="274.3" r="1.0" fill="#e06c00"/>
<circle cx="221.53" cy="266.03" r="1.0" fill="#e06c00"/>
<circle cx="223.17" cy="274.2" r="1.0" fill="#e06c00"/>
<circle cx="224.81" cy="279.24" r="1.0" fill="#e06c00"/>
<circle cx="226.45" cy="276.03" r="1.0" fill="#e06c00"/>
<circle cx="228.08" cy="272.18" r="1.0" fill="#e06c00"/>
<circle cx="229.72" cy="265.74" r="1.0" fill="#e06c00"/>
<circle cx="231.36" cy="254.53" r="1.0" fill="#e06c00"/>
<circle cx="233" cy="255.84" r="1.0" fill="#e06c00"/>
<circle cx="234.64" cy="258.45" r="1.0" fill="#e06c00"/>
<circle cx="236.28" cy="255.84" r="1.0" fill="#e06c00"/>
<circle cx="237.92" cy="254.53" r="1.0" fill="#e06c00"/>
<circle cx="239.56" cy="256.49" r="1.0" fill="#e06c00"/>
<circle cx="241.19" cy="263.79" r="1.0" fill="#e06c00"/>
<circle cx="242.83" cy="268.11" r="1.0" fill="#e06c00"/>
<circle cx="244.47" cy="273.15" r="1.0" fill="#e06c00"/>
<circle cx="246.11" cy="276.03" r="1.0" fill="#e06c00"/>
<circle cx="247.75" cy="276.32" r="1.0" fill="#e06c00"/>
<circle cx="249.39" cy="278.06" r="1.0" fill="#e06c00"/>
<circle cx="251.03" cy="281.12" r="1.0" fill="#e06c00"/>
<circle cx="252.67" cy="284.78" r="1.0" fill="#e06c00"/>
<circle cx="254.31" cy="288.44" r="1.0" fill="#e06c00"/>
<circle cx="255.94" cy="291.5" r="1.0" fill="#e06c00"/>
<circle cx="257.58" cy="292.96" r="1.0" fill="#e06c00"/>
<circle cx="259.22" cy="293.33" r="1.0" fill="#e06c00"/>
<circle cx="260.86" cy="292.11" r="1.0" fill="#e06c00"/>
<circle cx="262.5" cy="288.44" r="1.0" fill="#e06c00"/>
<circle cx="264.14" cy="281.73" r="1.0" fill="#e06c00"/>
<circle cx="265.78" cy="276.84" r="1.0" fill="#e06c00"/>
<circle cx="267.41" cy="271.96" r="1.0" fill="#e06c00"/>
<circle cx="269.05" cy="270.74" r="1.0" fill="#e06c00"/>
<circle cx="270.69" cy="271.96" r="1.0" fill="#e06c00"/>
<circle cx="272.33" cy="274.4" r="1.0" fill="#e06c00"/>
<circle cx="273.97" cy="273.79" r="1.0" fill="#e06c00"/>
<circle cx="275.61" cy="271.35" r="1.0" fill="#e06c00"/>
<circle cx="277.25" cy="269.52" r="1.0" fill="#e06c00"/>
<circle cx="278.89" cy="267.69" r="1.0" fill="#e06c00"/>
<circle cx="280.52" cy="267.08" r="1.0" fill="#e06c00"/>
<circle cx="282.16" cy="270.74" r="1.0" fill="#e06c00"/>
<circle cx="283.8" cy="275.62" r="1.0" fill="#e06c00"/>
<circle cx="285.44" cy="278.31" r="1.0" fill="#e06c00"/>
<circle cx="287.08" cy="278.89" r="1.0" fill="#e06c00"/>
<circle cx="288.72" cy="279.9" r="1.0" fill="#e06c00"/>
<circle cx="290.36" cy="282.95" r="1.0" fill="#e06c00"/>
<circle cx="292" cy="286.61" r="1.0" fill="#e06c00"/>
<circle cx="293.63" cy="290.27" r="1.0" fill="#e06c00"/>
<circle cx="295.27" cy="292.72" r="1.0" fill="#e06c00"/>
<circle cx="296.91" cy="293.57" r="1.0" fill="#e06c00"/>
<circle cx="298.55" cy="293.57" r="1.0" fill="#e06c00"/>
<circle cx="300.19" cy="292.11" r="1.0" fill="#e06c00"/>
<circle cx="301.83" cy="289.05" r="1.0" fill="#e06c00"/>
<circle cx="303.47" cy="285.39" r="1.0" fill="#e06c00"/>
<circle cx="305.11" cy="281.61" r="1.0" fill="#e06c00"/>
<circle cx="306.75" cy="278.07" r="1.0" fill="#e06c00"/>
<circle cx="308.38" cy="275.01" r="1.0" fill="#e06c00"/>
<circle cx="310.02" cy="273.91" r="1.0" fill="#e06c00"/>
<circle cx="311.66" cy="274.4" r="1.0" fill="#e06c00"/>
<circle cx="313.3" cy="275.14" r="1.0" fill="#e06c00"/>
<circle cx="314.94" cy="273.79" r="1.0" fill="#e06c00"/>
<circle cx="316.58" cy="271.96" r="1.0" fill="#e06c00"/>
<circle cx="318.22" cy="270.74" r="1.0" fill="#e06c00"/>
<circle cx="319.86" cy="273.18" r="1.0" fill="#e06c00"/>
<circle cx="321.49" cy="277.7" r="1.0" fill="#e06c00"/>
<circle cx="323.13" cy="280.51" r="1.0" fill="#e06c00"/>
<circle cx="324.77" cy="282.22" r="1.0" fill="#e06c00"/>
<line x1="410.8" y1="141.5" x2="518.8" y2="141.5" stroke="#cdcdcd" stroke-width="1" />
<line x1="410.8" y1="125.5" x2="518.8" y2="125.5" stroke="#cdcdcd" stroke-width="1" />
<line x1="410.8" y1="108.5" x2="518.8" y2="108.5" stroke="#cdcdcd" stroke-width="1" />
<line x1="410.8" y1="91.5" x2="518.8" y2="91.5" stroke="#cdcdcd" stroke-width="1" />
<line x1="410.8" y1="75.5" x2="518.8" y2="75.5" stroke="#cdcdcd" stroke-width="1" />
<line x1="410.8" y1="58.5" x2="518.8" y2="58.5" stroke="#cdcdcd" stroke-width="1" />
<line x1="428.5" y1="46.5" x2="428.5" y2="158.6" stroke="#cdcdcd" stroke-width="1" />
<line x1="446.5" y1="46.5" x2="446.5" y2="158.6" stroke="#cdcdcd" stroke-width="1" />
<line x1="463.5" y1="46.5" x2="463.5" y2="158.6" stroke="#cdcdcd" stroke-width="1" />
<line x1="481.5" y1="46.5" x2="481.5" y2="158.6" stroke="#cdcdcd" stroke-width="1" />
<line x1="498.5" y1="46.5" x2="498.5" y2="158.6" stroke="#cdcdcd" stroke-width="1" />
<line x1="516.5" y1="46.5" x2="516.5" y2="158.6" stroke="#cdcdcd" stroke-width="1" />
<polygon points="414.48,158.6 414.48,129.43 416.38,129.43 416.38,98.45 418.28,98.45 418.28,77.04 420.18,77.04 420.18,58.29 422.08,58.29 422.08,53.52 423.98,53.52 423.98,52 425.88,52 425.88,51.42 427.78,51.42 427.78,52.92 429.68,52.92 429.68,57.18 431.58,57.18 431.58,64.12 433.48,64.12 433.48,71.31 435.38,71.31 435.38,78.63 437.28,78.63 437.28,85.87 439.18,85.87 439.18,93.11 441.07,93.11 441.07,101.91 442.97,101.91 442.97,109.19 444.87,109.19 444.87,115.66 446.77,115.66 446.77,121.36 448.67,121.36 448.67,125.83 450.57,125.83 450.57,130.53 452.47,130.53 452.47,134.56 454.37,134.56 454.37,138.15 456.27,138.15 456.27,141.36 458.17,141.36 458.17,144.47 460.07,144.47 460.07,147.24 461.97,147.24 461.97,149.89 463.87,149.89 463.87,151.75 465.77,151.75 465.77,153.4 467.67,153.4 467.67,154.65 469.57,154.65 469.57,155.47 471.47,155.47 471.47,156.29 473.37,156.29 473.37,156.88 475.26,156.88 475.26,157.17 477.16,157.17 477.16,157.46 479.06,157.46 479.06,157.74 480.96,157.74 480.96,157.95 482.86,157.95 482.86,158.01 484.76,158.01 484.76,158.06 486.66,158.06 486.66,158.11 488.56,158.11 488.56,158.17 490.46,158.17 490.46,158.22 492.36,158.22 492.36,158.27 494.26,158.27 494.26,158.33 496.16,158.33 496.16,158.38 498.06,158.38 498.06,158.43 499.96,158.43 499.96,158.45 501.86,158.45 501.86,158.47 503.76,158.47 503.76,158.49 505.66,158.49 505.66,158.51 507.55,158.51 507.55,158.52 509.45,158.52 509.45,158.54 511.35,158.54 511.35,158.56 513.25,158.56 513.25,158.58 515.15,158.58 515.15,158.6" fill="#ff7f0e" stroke="none" fill-opacity="0.23"/>
<polygon points="414.48,158.6 414.48,121.76 416.38,121.76 416.38,90.79 418.28,90.79 418.28,72.07 420.18,72.07 420.18,61.76 422.08,61.76 422.08,59.46 423.98,59.46 423.98,65.11 425.88,65.11 425.88,71.34 427.78,71.34 427.78,77.54 429.68,77.54 429.68,87.32 431.58,87.32 431.58,95.12 433.48,95.12 433.48,100.86 435.38,100.86 435.38,106.85 437.28,106.85 437.28,113.36 439.18,113.36 439.18,119.46 441.07,119.46 441.07,125.67 442.97,125.67 442.97,130.42 444.87,130.42 444.87,134.14 446.77,134.14 446.77,137.78 448.67,137.78 448.67,141.27 450.57,141.27 450.57,144.05 452.47,144.05 452.47,146.76 454.37,146.76 454.37,148.68 456.27,148.68 456.27,150.6 458.17,150.6 458.17,152.32 460.07,152.32 460.07,153.73 461.97,153.73 461.97,155.14 463.87,155.14 463.87,155.87 465.77,155.87 465.77,156.42 467.67,156.42 467.67,156.97 469.57,156.97 469.57,157.34 471.47,157.34 471.47,157.5 473.37,157.5 473.37,157.67 475.26,157.67 475.26,157.83 477.16,157.83 477.16,157.99 479.06,157.99 479.06,158.16 480.96,158.16 480.96,158.27 482.86,158.27 482.86,158.29 484.76,158.29 484.76,158.31 486.66,158.31 486.66,158.33 488.56,158.33 488.56,158.34 490.46,158.34 490.46,158.36 492.36,158.36 492.36,158.38 494.26,158.38 494.26,158.4 496.16,158.4 496.16,158.42 498.06,158.42 498.06,158.43 499.96,158.43 499.96,158.45 501.86,158.45 501.86,158.47 503.76,158.47 503.76,158.49 505.66,158.49 505.66,158.51 507.55,158.51 507.55,158.52 509.45,158.52 509.45,158.54 511.35,158.54 511.35,158.56 513.25,158.56 513.25,158.58 515.15,158.58 515.15,158.6" fill="#1f77b4" stroke="none" fill-opacity="0.25"/>
<polyline points="414.48,158.6 414.48,129.43 416.38,129.43 416.38,98.45 418.28,98.45 418.28,77.04 420.18,77.04 420.18,58.29 422.08,58.29 422.08,53.52 423.98,53.52 423.98,52 425.88,52 425.88,51.42 427.78,51.42 427.78,52.92 429.68,52.92 429.68,57.18 431.58,57.18 431.58,64.12 433.48,64.12 433.48,71.31 435.38,71.31 435.38,78.63 437.28,78.63 437.28,85.87 439.18,85.87 439.18,93.11 441.07,93.11 441.07,101.91 442.97,101.91 442.97,109.19 444.87,109.19 444.87,115.66 446.77,115.66 446.77,121.36 448.67,121.36 448.67,125.83 450.57,125.83 450.57,130.53 452.47,130.53 452.47,134.56 454.37,134.56 454.37,138.15 456.27,138.15 456.27,141.36 458.17,141.36 458.17,144.47 460.07,144.47 460.07,147.24 461.97,147.24 461.97,149.89 463.87,149.89 463.87,151.75 465.77,151.75 465.77,153.4 467.67,153.4 467.67,154.65 469.57,154.65 469.57,155.47 471.47,155.47 471.47,156.29 473.37,156.29 473.37,156.88 475.26,156.88 475.26,157.17 477.16,157.17 477.16,157.46 479.06,157.46 479.06,157.74 480.96,157.74 480.96,157.95 482.86,157.95 482.86,158.01 484.76,158.01 484.76,158.06 486.66,158.06 486.66,158.11 488.56,158.11 488.56,158.17 490.46,158.17 490.46,158.22 492.36,158.22 492.36,158.27 494.26,158.27 494.26,158.33 496.16,158.33 496.16,158.38 498.06,158.38 498.06,158.43 499.96,158.43 499.96,158.45 501.86,158.45 501.86,158.47 503.76,158.47 503.76,158.49 505.66,158.49 505.66,158.51 507.55,158.51 507.55,158.52 509.45,158.52 509.45,158.54 511.35,158.54 511.35,158.56 513.25,158.56 513.25,158.58 515.15,158.58 515.15,158.6" fill="none" stroke="#f2ad70" stroke-width="0.7" stroke-linejoin="round" />
<polyline points="414.48,158.6 414.48,121.76 416.38,121.76 416.38,90.79 418.28,90.79 418.28,72.07 420.18,72.07 420.18,61.76 422.08,61.76 422.08,59.46 423.98,59.46 423.98,65.11 425.88,65.11 425.88,71.34 427.78,71.34 427.78,77.54 429.68,77.54 429.68,87.32 431.58,87.32 431.58,95.12 433.48,95.12 433.48,100.86 435.38,100.86 435.38,106.85 437.28,106.85 437.28,113.36 439.18,113.36 439.18,119.46 441.07,119.46 441.07,125.67 442.97,125.67 442.97,130.42 444.87,130.42 444.87,134.14 446.77,134.14 446.77,137.78 448.67,137.78 448.67,141.27 450.57,141.27 450.57,144.05 452.47,144.05 452.47,146.76 454.37,146.76 454.37,148.68 456.27,148.68 456.27,150.6 458.17,150.6 458.17,152.32 460.07,152.32 460.07,153.73 461.97,153.73 461.97,155.14 463.87,155.14 463.87,155.87 465.77,155.87 465.77,156.42 467.67,156.42 467.67,156.97 469.57,156.97 469.57,157.34 471.47,157.34 471.47,157.5 473.37,157.5 473.37,157.67 475.26,157.67 475.26,157.83 477.16,157.83 477.16,157.99 479.06,157.99 479.06,158.16 480.96,158.16 480.96,158.27 482.86,158.27 482.86,158.29 484.76,158.29 484.76,158.31 486.66,158.31 486.66,158.33 488.56,158.33 488.56,158.34 490.46,158.34 490.46,158.36 492.36,158.36 492.36,158.38 494.26,158.38 494.26,158.4 496.16,158.4 496.16,158.42 498.06,158.42 498.06,158.43 499.96,158.43 499.96,158.45 501.86,158.45 501.86,158.47 503.76,158.47 503.76,158.49 505.66,158.49 505.66,158.51 507.55,158.51 507.55,158.52 509.45,158.52 509.45,158.54 511.35,158.54 511.35,158.56 513.25,158.56 513.25,158.58 515.15,158.58 515.15,158.6" fill="none" stroke="#3f6f94" stroke-width="0.7" stroke-linejoin="round" />
<line x1="431.15" y1="46.5" x2="431.15" y2="158.6" stroke="#4681b0" stroke-width="0.9" />
<line x1="434.23" y1="46.5" x2="434.23" y2="158.6" stroke="#eea260" stroke-width="1.0" />
<line x1="410.8" y1="46.5" x2="410.8" y2="158.6" stroke="#7a7a7a" stroke-width="1" />
<line x1="410.8" y1="158.6" x2="518.8" y2="158.6" stroke="#7a7a7a" stroke-width="1" />
<line x1="409" y1="158.6" x2="410.8" y2="158.6" stroke="#7a7a7a" stroke-width="0.8" />
<text x="407" y="160.7" font-size="6" text-anchor="end" font-weight="normal" fill="#1a1a1a" stroke="#1a1a1a" stroke-width="0.24" >0.00M</text>
<line x1="409" y1="141.93" x2="410.8" y2="141.93" stroke="#7a7a7a" stroke-width="0.8" />
<text x="407" y="144.03" font-size="6" text-anchor="end" font-weight="normal" fill="#1a1a1a" stroke="#1a1a1a" stroke-width="0.24" >0.10M</text>
<line x1="409" y1="125.26" x2="410.8" y2="125.26" stroke="#7a7a7a" stroke-width="0.8" />
<text x="407" y="127.36" font-size="6" text-anchor="end" font-weight="normal" fill="#1a1a1a" stroke="#1a1a1a" stroke-width="0.24" >0.20M</text>
<line x1="409" y1="108.59" x2="410.8" y2="108.59" stroke="#7a7a7a" stroke-width="0.8" />
<text x="407" y="110.69" font-size="6" text-anchor="end" font-weight="normal" fill="#1a1a1a" stroke="#1a1a1a" stroke-width="0.24" >0.30M</text>
<line x1="409" y1="91.92" x2="410.8" y2="91.92" stroke="#7a7a7a" stroke-width="0.8" />
<text x="407" y="94.02" font-size="6" text-anchor="end" font-weight="normal" fill="#1a1a1a" stroke="#1a1a1a" stroke-width="0.24" >0.40M</text>
<line x1="409" y1="75.25" x2="410.8" y2="75.25" stroke="#7a7a7a" stroke-width="0.8" />
<text x="407" y="77.35" font-size="6" text-anchor="end" font-weight="normal" fill="#1a1a1a" stroke="#1a1a1a" stroke-width="0.24" >0.50M</text>
<line x1="409" y1="58.58" x2="410.8" y2="58.58" stroke="#7a7a7a" stroke-width="0.8" />
<text x="407" y="60.68" font-size="6" text-anchor="end" font-weight="normal" fill="#1a1a1a" stroke="#1a1a1a" stroke-width="0.24" >0.60M</text>
<line x1="410.8" y1="158.6" x2="410.8" y2="160.4" stroke="#7a7a7a" stroke-width="0.8" />
<text x="410.8" y="165.8" font-size="6" text-anchor="middle" font-weight="normal" fill="#1a1a1a" stroke="#1a1a1a" stroke-width="0.24" >0</text>
<line x1="428.42" y1="158.6" x2="428.42" y2="160.4" stroke="#7a7a7a" stroke-width="0.8" />
<text x="428.42" y="165.8" font-size="6" text-anchor="middle" font-weight="normal" fill="#1a1a1a" stroke="#1a1a1a" stroke-width="0.24" >10</text>
<line x1="446.04" y1="158.6" x2="446.04" y2="160.4" stroke="#7a7a7a" stroke-width="0.8" />
<text x="446.04" y="165.8" font-size="6" text-anchor="middle" font-weight="normal" fill="#1a1a1a" stroke="#1a1a1a" stroke-width="0.24" >20</text>
<line x1="463.66" y1="158.6" x2="463.66" y2="160.4" stroke="#7a7a7a" stroke-width="0.8" />
<text x="463.66" y="165.8" font-size="6" text-anchor="middle" font-weight="normal" fill="#1a1a1a" stroke="#1a1a1a" stroke-width="0.24" >30</text>
<line x1="481.28" y1="158.6" x2="481.28" y2="160.4" stroke="#7a7a7a" stroke-width="0.8" />
<text x="481.28" y="165.8" font-size="6" text-anchor="middle" font-weight="normal" fill="#1a1a1a" stroke="#1a1a1a" stroke-width="0.24" >40</text>
<line x1="498.9" y1="158.6" x2="498.9" y2="160.4" stroke="#7a7a7a" stroke-width="0.8" />
<text x="498.9" y="165.8" font-size="6" text-anchor="middle" font-weight="normal" fill="#1a1a1a" stroke="#1a1a1a" stroke-width="0.24" >50</text>
<line x1="516.52" y1="158.6" x2="516.52" y2="160.4" stroke="#7a7a7a" stroke-width="0.8" />
<text x="516.52" y="165.8" font-size="6" text-anchor="middle" font-weight="normal" fill="#1a1a1a" stroke="#1a1a1a" stroke-width="0.24" >60</text>
<text x="470" y="172.2" font-size="6" text-anchor="middle" font-weight="normal" fill="#1a1a1a" stroke="#1a1a1a" stroke-width="0.24" >Time (min)</text>
<text x="384.8" y="99.7" font-size="6" text-anchor="middle" font-weight="normal" fill="#1a1a1a" stroke="#1a1a1a" stroke-width="0.24" transform="rotate(-90 384.8 99.7)" >Trip count</text>
<line x1="574.6" y1="145.5" x2="683" y2="145.5" stroke="#cdcdcd" stroke-width="1" />
<line x1="574.6" y1="132.5" x2="683" y2="132.5" stroke="#cdcdcd" stroke-width="1" />
<line x1="574.6" y1="119.5" x2="683" y2="119.5" stroke="#cdcdcd" stroke-width="1" />
<line x1="574.6" y1="106.5" x2="683" y2="106.5" stroke="#cdcdcd" stroke-width="1" />
<line x1="574.6" y1="93.5" x2="683" y2="93.5" stroke="#cdcdcd" stroke-width="1" />
<line x1="574.6" y1="80.5" x2="683" y2="80.5" stroke="#cdcdcd" stroke-width="1" />
<line x1="574.6" y1="67.5" x2="683" y2="67.5" stroke="#cdcdcd" stroke-width="1" />
<line x1="574.6" y1="54.5" x2="683" y2="54.5" stroke="#cdcdcd" stroke-width="1" />
<line x1="591.5" y1="46.5" x2="591.5" y2="158.8" stroke="#cdcdcd" stroke-width="1" />
<line x1="607.5" y1="46.5" x2="607.5" y2="158.8" stroke="#cdcdcd" stroke-width="1" />
<line x1="624.5" y1="46.5" x2="624.5" y2="158.8" stroke="#cdcdcd" stroke-width="1" />
<line x1="640.5" y1="46.5" x2="640.5" y2="158.8" stroke="#cdcdcd" stroke-width="1" />
<line x1="657.5" y1="46.5" x2="657.5" y2="158.8" stroke="#cdcdcd" stroke-width="1" />
<line x1="673.5" y1="46.5" x2="673.5" y2="158.8" stroke="#cdcdcd" stroke-width="1" />
<polygon points="575.59,158.8 575.59,157.28 577.49,157.28 577.49,139.25 579.39,139.25 579.39,112.24 581.29,112.24 581.29,87 583.19,87 583.19,67.75 585.09,67.75 585.09,58.1 586.99,58.1 586.99,57.64 588.89,57.64 588.89,62 590.79,62 590.79,67.6 592.69,67.6 592.69,73.66 594.59,73.66 594.59,81.47 596.49,81.47 596.49,93.24 598.39,93.24 598.39,101.12 600.29,101.12 600.29,106.87 602.19,106.87 602.19,113.03 604.09,113.03 604.09,119.94 605.99,119.94 605.99,126.04 607.89,126.04 607.89,131.95 609.79,131.95 609.79,137.32 611.69,137.32 611.69,142.04 613.59,142.04 613.59,146.15 615.49,146.15 615.49,149.11 617.39,149.11 617.39,151.68 619.29,151.68 619.29,152.85 621.19,152.85 621.19,154.03 623.09,154.03 623.09,154.92 624.99,154.92 624.99,155.62 626.89,155.62 626.89,156.32 628.79,156.32 628.79,156.76 630.69,156.76 630.69,157.13 632.59,157.13 632.59,157.5 634.49,157.5 634.49,157.78 636.39,157.78 636.39,158 638.29,158 638.29,158.23 640.19,158.23 640.19,158.42 642.09,158.42 642.09,158.5 643.99,158.5 643.99,158.57 645.89,158.57 645.89,158.65 647.79,158.65 647.79,158.68 649.69,158.68 649.69,158.68 651.59,158.68 651.59,158.69 653.49,158.69 653.49,158.7 655.39,158.7 655.39,158.71 657.29,158.71 657.29,158.71 659.19,158.71 659.19,158.72 661.09,158.72 661.09,158.73 662.99,158.73 662.99,158.73 664.89,158.73 664.89,158.74 666.79,158.74 666.79,158.75 668.69,158.75 668.69,158.76 670.59,158.76 670.59,158.76 672.49,158.76 672.49,158.77 674.39,158.77 674.39,158.78 676.29,158.78 676.29,158.79 678.19,158.79 678.19,158.79 680.09,158.79 680.09,158.8 681.99,158.8 681.99,158.8" fill="#ff7f0e" stroke="none" fill-opacity="0.23"/>
<polygon points="575.59,158.8 575.59,155.77 577.49,155.77 577.49,120.38 579.39,120.38 579.39,78.56 581.29,78.56 581.29,52.19 583.19,52.19 583.19,51.44 585.09,51.44 585.09,54.78 586.99,54.78 586.99,68.61 588.89,68.61 588.89,85.51 590.79,85.51 590.79,100.49 592.69,100.49 592.69,109.45 594.59,109.45 594.59,117.49 596.49,117.49 596.49,125.66 598.39,125.66 598.39,130.38 600.29,130.38 600.29,135.54 602.19,135.54 602.19,140.82 604.09,140.82 604.09,145.39 605.99,145.39 605.99,148.56 607.89,148.56 607.89,150.91 609.79,150.91 609.79,152.72 611.69,152.72 611.69,154.09 613.59,154.09 613.59,155.05 615.49,155.05 615.49,155.97 617.39,155.97 617.39,156.34 619.29,156.34 619.29,156.71 621.19,156.71 621.19,157.09 623.09,157.09 623.09,157.41 624.99,157.41 624.99,157.7 626.89,157.7 626.89,157.99 628.79,157.99 628.79,158.19 630.69,158.19 630.69,158.27 632.59,158.27 632.59,158.36 634.49,158.36 634.49,158.45 636.39,158.45 636.39,158.53 638.29,158.53 638.29,158.55 640.19,158.55 640.19,158.56 642.09,158.56 642.09,158.57 643.99,158.57 643.99,158.59 645.89,158.59 645.89,158.6 647.79,158.6 647.79,158.61 649.69,158.61 649.69,158.62 651.59,158.62 651.59,158.63 653.49,158.63 653.49,158.64 655.39,158.64 655.39,158.65 657.29,158.65 657.29,158.67 659.19,158.67 659.19,158.68 661.09,158.68 661.09,158.69 662.99,158.69 662.99,158.7 664.89,158.7 664.89,158.71 666.79,158.71 666.79,158.72 668.69,158.72 668.69,158.73 670.59,158.73 670.59,158.75 672.49,158.75 672.49,158.76 674.39,158.76 674.39,158.77 676.29,158.77 676.29,158.78 678.19,158.78 678.19,158.79 680.09,158.79 680.09,158.8 681.99,158.8 681.99,158.8" fill="#1f77b4" stroke="none" fill-opacity="0.25"/>
<polyline points="575.59,158.8 575.59,157.28 577.49,157.28 577.49,139.25 579.39,139.25 579.39,112.24 581.29,112.24 581.29,87 583.19,87 583.19,67.75 585.09,67.75 585.09,58.1 586.99,58.1 586.99,57.64 588.89,57.64 588.89,62 590.79,62 590.79,67.6 592.69,67.6 592.69,73.66 594.59,73.66 594.59,81.47 596.49,81.47 596.49,93.24 598.39,93.24 598.39,101.12 600.29,101.12 600.29,106.87 602.19,106.87 602.19,113.03 604.09,113.03 604.09,119.94 605.99,119.94 605.99,126.04 607.89,126.04 607.89,131.95 609.79,131.95 609.79,137.32 611.69,137.32 611.69,142.04 613.59,142.04 613.59,146.15 615.49,146.15 615.49,149.11 617.39,149.11 617.39,151.68 619.29,151.68 619.29,152.85 621.19,152.85 621.19,154.03 623.09,154.03 623.09,154.92 624.99,154.92 624.99,155.62 626.89,155.62 626.89,156.32 628.79,156.32 628.79,156.76 630.69,156.76 630.69,157.13 632.59,157.13 632.59,157.5 634.49,157.5 634.49,157.78 636.39,157.78 636.39,158 638.29,158 638.29,158.23 640.19,158.23 640.19,158.42 642.09,158.42 642.09,158.5 643.99,158.5 643.99,158.57 645.89,158.57 645.89,158.65 647.79,158.65 647.79,158.68 649.69,158.68 649.69,158.68 651.59,158.68 651.59,158.69 653.49,158.69 653.49,158.7 655.39,158.7 655.39,158.71 657.29,158.71 657.29,158.71 659.19,158.71 659.19,158.72 661.09,158.72 661.09,158.73 662.99,158.73 662.99,158.73 664.89,158.73 664.89,158.74 666.79,158.74 666.79,158.75 668.69,158.75 668.69,158.76 670.59,158.76 670.59,158.76 672.49,158.76 672.49,158.77 674.39,158.77 674.39,158.78 676.29,158.78 676.29,158.79 678.19,158.79 678.19,158.79 680.09,158.79 680.09,158.8 681.99,158.8 681.99,158.8" fill="none" stroke="#f2ad70" stroke-width="0.7" stroke-linejoin="round" />
<polyline points="575.59,158.8 575.59,155.77 577.49,155.77 577.49,120.38 579.39,120.38 579.39,78.56 581.29,78.56 581.29,52.19 583.19,52.19 583.19,51.44 585.09,51.44 585.09,54.78 586.99,54.78 586.99,68.61 588.89,68.61 588.89,85.51 590.79,85.51 590.79,100.49 592.69,100.49 592.69,109.45 594.59,109.45 594.59,117.49 596.49,117.49 596.49,125.66 598.39,125.66 598.39,130.38 600.29,130.38 600.29,135.54 602.19,135.54 602.19,140.82 604.09,140.82 604.09,145.39 605.99,145.39 605.99,148.56 607.89,148.56 607.89,150.91 609.79,150.91 609.79,152.72 611.69,152.72 611.69,154.09 613.59,154.09 613.59,155.05 615.49,155.05 615.49,155.97 617.39,155.97 617.39,156.34 619.29,156.34 619.29,156.71 621.19,156.71 621.19,157.09 623.09,157.09 623.09,157.41 624.99,157.41 624.99,157.7 626.89,157.7 626.89,157.99 628.79,157.99 628.79,158.19 630.69,158.19 630.69,158.27 632.59,158.27 632.59,158.36 634.49,158.36 634.49,158.45 636.39,158.45 636.39,158.53 638.29,158.53 638.29,158.55 640.19,158.55 640.19,158.56 642.09,158.56 642.09,158.57 643.99,158.57 643.99,158.59 645.89,158.59 645.89,158.6 647.79,158.6 647.79,158.61 649.69,158.61 649.69,158.62 651.59,158.62 651.59,158.63 653.49,158.63 653.49,158.64 655.39,158.64 655.39,158.65 657.29,158.65 657.29,158.67 659.19,158.67 659.19,158.68 661.09,158.68 661.09,158.69 662.99,158.69 662.99,158.7 664.89,158.7 664.89,158.71 666.79,158.71 666.79,158.72 668.69,158.72 668.69,158.73 670.59,158.73 670.59,158.75 672.49,158.75 672.49,158.76 674.39,158.76 674.39,158.77 676.29,158.77 676.29,158.78 678.19,158.78 678.19,158.79 680.09,158.79 680.09,158.8 681.99,158.8 681.99,158.8" fill="none" stroke="#3f6f94" stroke-width="0.7" stroke-linejoin="round" />
<line x1="589.03" y1="46.5" x2="589.03" y2="158.8" stroke="#4681b0" stroke-width="0.9" />
<line x1="593.8" y1="46.5" x2="593.8" y2="158.8" stroke="#eea260" stroke-width="1.0" />
<line x1="574.6" y1="46.5" x2="574.6" y2="158.8" stroke="#7a7a7a" stroke-width="1" />
<line x1="574.6" y1="158.8" x2="683" y2="158.8" stroke="#7a7a7a" stroke-width="1" />
<line x1="572.8" y1="158.8" x2="574.6" y2="158.8" stroke="#7a7a7a" stroke-width="0.8" />
<text x="570.8" y="160.9" font-size="6" text-anchor="end" font-weight="normal" fill="#1a1a1a" stroke="#1a1a1a" stroke-width="0.24" >0.00M</text>
<line x1="572.8" y1="145.8" x2="574.6" y2="145.8" stroke="#7a7a7a" stroke-width="0.8" />
<text x="570.8" y="147.9" font-size="6" text-anchor="end" font-weight="normal" fill="#1a1a1a" stroke="#1a1a1a" stroke-width="0.24" >0.10M</text>
<line x1="572.8" y1="132.8" x2="574.6" y2="132.8" stroke="#7a7a7a" stroke-width="0.8" />
<text x="570.8" y="134.9" font-size="6" text-anchor="end" font-weight="normal" fill="#1a1a1a" stroke="#1a1a1a" stroke-width="0.24" >0.20M</text>
<line x1="572.8" y1="119.8" x2="574.6" y2="119.8" stroke="#7a7a7a" stroke-width="0.8" />
<text x="570.8" y="121.9" font-size="6" text-anchor="end" font-weight="normal" fill="#1a1a1a" stroke="#1a1a1a" stroke-width="0.24" >0.30M</text>
<line x1="572.8" y1="106.8" x2="574.6" y2="106.8" stroke="#7a7a7a" stroke-width="0.8" />
<text x="570.8" y="108.9" font-size="6" text-anchor="end" font-weight="normal" fill="#1a1a1a" stroke="#1a1a1a" stroke-width="0.24" >0.40M</text>
<line x1="572.8" y1="93.8" x2="574.6" y2="93.8" stroke="#7a7a7a" stroke-width="0.8" />
<text x="570.8" y="95.9" font-size="6" text-anchor="end" font-weight="normal" fill="#1a1a1a" stroke="#1a1a1a" stroke-width="0.24" >0.50M</text>
<line x1="572.8" y1="80.8" x2="574.6" y2="80.8" stroke="#7a7a7a" stroke-width="0.8" />
<text x="570.8" y="82.9" font-size="6" text-anchor="end" font-weight="normal" fill="#1a1a1a" stroke="#1a1a1a" stroke-width="0.24" >0.60M</text>
<line x1="572.8" y1="67.8" x2="574.6" y2="67.8" stroke="#7a7a7a" stroke-width="0.8" />
<text x="570.8" y="69.9" font-size="6" text-anchor="end" font-weight="normal" fill="#1a1a1a" stroke="#1a1a1a" stroke-width="0.24" >0.70M</text>
<line x1="572.8" y1="54.8" x2="574.6" y2="54.8" stroke="#7a7a7a" stroke-width="0.8" />
<text x="570.8" y="56.9" font-size="6" text-anchor="end" font-weight="normal" fill="#1a1a1a" stroke="#1a1a1a" stroke-width="0.24" >0.80M</text>
<line x1="574.6" y1="158.8" x2="574.6" y2="160.6" stroke="#7a7a7a" stroke-width="0.8" />
<text x="574.6" y="166" font-size="6" text-anchor="middle" font-weight="normal" fill="#1a1a1a" stroke="#1a1a1a" stroke-width="0.24" >0.0</text>
<line x1="591.15" y1="158.8" x2="591.15" y2="160.6" stroke="#7a7a7a" stroke-width="0.8" />
<text x="591.15" y="166" font-size="6" text-anchor="middle" font-weight="normal" fill="#1a1a1a" stroke="#1a1a1a" stroke-width="0.24" >2.5</text>
<line x1="607.7" y1="158.8" x2="607.7" y2="160.6" stroke="#7a7a7a" stroke-width="0.8" />
<text x="607.7" y="166" font-size="6" text-anchor="middle" font-weight="normal" fill="#1a1a1a" stroke="#1a1a1a" stroke-width="0.24" >5.0</text>
<line x1="624.25" y1="158.8" x2="624.25" y2="160.6" stroke="#7a7a7a" stroke-width="0.8" />
<text x="624.25" y="166" font-size="6" text-anchor="middle" font-weight="normal" fill="#1a1a1a" stroke="#1a1a1a" stroke-width="0.24" >7.5</text>
<line x1="640.8" y1="158.8" x2="640.8" y2="160.6" stroke="#7a7a7a" stroke-width="0.8" />
<text x="640.8" y="166" font-size="6" text-anchor="middle" font-weight="normal" fill="#1a1a1a" stroke="#1a1a1a" stroke-width="0.24" >10.0</text>
<line x1="657.35" y1="158.8" x2="657.35" y2="160.6" stroke="#7a7a7a" stroke-width="0.8" />
<text x="657.35" y="166" font-size="6" text-anchor="middle" font-weight="normal" fill="#1a1a1a" stroke="#1a1a1a" stroke-width="0.24" >12.5</text>
<line x1="673.9" y1="158.8" x2="673.9" y2="160.6" stroke="#7a7a7a" stroke-width="0.8" />
<text x="673.9" y="166" font-size="6" text-anchor="middle" font-weight="normal" fill="#1a1a1a" stroke="#1a1a1a" stroke-width="0.24" >15.0</text>
<text x="629" y="172.7" font-size="6" text-anchor="middle" font-weight="normal" fill="#1a1a1a" stroke="#1a1a1a" stroke-width="0.24" >Distance (km)</text>
<text x="548.7" y="99.9" font-size="6" text-anchor="middle" font-weight="normal" fill="#1a1a1a" stroke="#1a1a1a" stroke-width="0.24" transform="rotate(-90 548.7 99.9)" >Trip count</text>
<line x1="410.9" y1="285.5" x2="521" y2="285.5" stroke="#cdcdcd" stroke-width="1" />
<line x1="410.9" y1="271.5" x2="521" y2="271.5" stroke="#cdcdcd" stroke-width="1" />
<line x1="410.9" y1="258.5" x2="521" y2="258.5" stroke="#cdcdcd" stroke-width="1" />
<line x1="410.9" y1="245.5" x2="521" y2="245.5" stroke="#cdcdcd" stroke-width="1" />
<line x1="410.9" y1="231.5" x2="521" y2="231.5" stroke="#cdcdcd" stroke-width="1" />
<line x1="410.9" y1="218.5" x2="521" y2="218.5" stroke="#cdcdcd" stroke-width="1" />
<line x1="410.9" y1="205.5" x2="521" y2="205.5" stroke="#cdcdcd" stroke-width="1" />
<line x1="432.5" y1="192.3" x2="432.5" y2="298.3" stroke="#cdcdcd" stroke-width="1" />
<line x1="454.5" y1="192.3" x2="454.5" y2="298.3" stroke="#cdcdcd" stroke-width="1" />
<line x1="476.5" y1="192.3" x2="476.5" y2="298.3" stroke="#cdcdcd" stroke-width="1" />
<line x1="498.5" y1="192.3" x2="498.5" y2="298.3" stroke="#cdcdcd" stroke-width="1" />
<line x1="520.5" y1="192.3" x2="520.5" y2="298.3" stroke="#cdcdcd" stroke-width="1" />
<polygon points="426.26,298.3 426.26,294.4 428.14,294.4 428.14,293.52 430.01,293.52 430.01,292.54 431.88,292.54 431.88,291.41 433.76,291.41 433.76,290.08 435.63,290.08 435.63,288.5 437.5,288.5 437.5,286.35 439.38,286.35 439.38,284.21 441.25,284.21 441.25,281.46 443.12,281.46 443.12,278.47 445,278.47 445,275.07 446.87,275.07 446.87,270.68 448.74,270.68 448.74,264.1 450.61,264.1 450.61,256.64 452.49,256.64 452.49,250.21 454.36,250.21 454.36,243.79 456.23,243.79 456.23,237.51 458.11,237.51 458.11,230.74 459.98,230.74 459.98,223.12 461.85,223.12 461.85,214.41 463.73,214.41 463.73,205.67 465.6,205.67 465.6,200.43 467.47,200.43 467.47,198.03 469.35,198.03 469.35,197.21 471.22,197.21 471.22,197.87 473.09,197.87 473.09,200.15 474.96,200.15 474.96,203.47 476.84,203.47 476.84,206.92 478.71,206.92 478.71,212.18 480.58,212.18 480.58,217.65 482.46,217.65 482.46,224.09 484.33,224.09 484.33,229.81 486.2,229.81 486.2,236.1 488.08,236.1 488.08,243.69 489.95,243.69 489.95,251.52 491.82,251.52 491.82,257.09 493.7,257.09 493.7,261.85 495.57,261.85 495.57,268.53 497.44,268.53 497.44,273.85 499.31,273.85 499.31,278.2 501.19,278.2 501.19,282.05 503.06,282.05 503.06,285.31 504.93,285.31 504.93,287.58 506.81,287.58 506.81,289.39 508.68,289.39 508.68,290.9 510.55,290.9 510.55,298.3" fill="#ff7f0e" stroke="none" fill-opacity="0.23"/>
<polygon points="426.26,298.3 426.26,293.68 428.14,293.68 428.14,292.42 430.01,292.42 430.01,291.05 431.88,291.05 431.88,289.49 433.76,289.49 433.76,287.56 435.63,287.56 435.63,285.29 437.5,285.29 437.5,282.2 439.38,282.2 439.38,278.72 441.25,278.72 441.25,274.89 443.12,274.89 443.12,269.97 445,269.97 445,260.98 446.87,260.98 446.87,248.98 448.74,248.98 448.74,239.76 450.61,239.76 450.61,231.37 452.49,231.37 452.49,221.54 454.36,221.54 454.36,216.15 456.23,216.15 456.23,211.17 458.11,211.17 458.11,207.49 459.98,207.49 459.98,206.01 461.85,206.01 461.85,206.65 463.73,206.65 463.73,210 465.6,210 465.6,214.83 467.47,214.83 467.47,221.22 469.35,221.22 469.35,226.98 471.22,226.98 471.22,232.83 473.09,232.83 473.09,240.32 474.96,240.32 474.96,247.67 476.84,247.67 476.84,253.03 478.71,253.03 478.71,258.8 480.58,258.8 480.58,265.13 482.46,265.13 482.46,271.03 484.33,271.03 484.33,275.68 486.2,275.68 486.2,279.43 488.08,279.43 488.08,282.83 489.95,282.83 489.95,285.44 491.82,285.44 491.82,287.87 493.7,287.87 493.7,289.99 495.57,289.99 495.57,291.66 497.44,291.66 497.44,292.79 499.31,292.79 499.31,293.86 501.19,293.86 501.19,294.53 503.06,294.53 503.06,295.19 504.93,295.19 504.93,295.7 506.81,295.7 506.81,295.89 508.68,295.89 508.68,296.08 510.55,296.08 510.55,298.3" fill="#1f77b4" stroke="none" fill-opacity="0.25"/>
<polyline points="426.26,298.3 426.26,294.4 428.14,294.4 428.14,293.52 430.01,293.52 430.01,292.54 431.88,292.54 431.88,291.41 433.76,291.41 433.76,290.08 435.63,290.08 435.63,288.5 437.5,288.5 437.5,286.35 439.38,286.35 439.38,284.21 441.25,284.21 441.25,281.46 443.12,281.46 443.12,278.47 445,278.47 445,275.07 446.87,275.07 446.87,270.68 448.74,270.68 448.74,264.1 450.61,264.1 450.61,256.64 452.49,256.64 452.49,250.21 454.36,250.21 454.36,243.79 456.23,243.79 456.23,237.51 458.11,237.51 458.11,230.74 459.98,230.74 459.98,223.12 461.85,223.12 461.85,214.41 463.73,214.41 463.73,205.67 465.6,205.67 465.6,200.43 467.47,200.43 467.47,198.03 469.35,198.03 469.35,197.21 471.22,197.21 471.22,197.87 473.09,197.87 473.09,200.15 474.96,200.15 474.96,203.47 476.84,203.47 476.84,206.92 478.71,206.92 478.71,212.18 480.58,212.18 480.58,217.65 482.46,217.65 482.46,224.09 484.33,224.09 484.33,229.81 486.2,229.81 486.2,236.1 488.08,236.1 488.08,243.69 489.95,243.69 489.95,251.52 491.82,251.52 491.82,257.09 493.7,257.09 493.7,261.85 495.57,261.85 495.57,268.53 497.44,268.53 497.44,273.85 499.31,273.85 499.31,278.2 501.19,278.2 501.19,282.05 503.06,282.05 503.06,285.31 504.93,285.31 504.93,287.58 506.81,287.58 506.81,289.39 508.68,289.39 508.68,290.9 510.55,290.9 510.55,298.3" fill="none" stroke="#f2ad70" stroke-width="0.7" stroke-linejoin="round" />
<polyline points="426.26,298.3 426.26,293.68 428.14,293.68 428.14,292.42 430.01,292.42 430.01,291.05 431.88,291.05 431.88,289.49 433.76,289.49 433.76,287.56 435.63,287.56 435.63,285.29 437.5,285.29 437.5,282.2 439.38,282.2 439.38,278.72 441.25,278.72 441.25,274.89 443.12,274.89 443.12,269.97 445,269.97 445,260.98 446.87,260.98 446.87,248.98 448.74,248.98 448.74,239.76 450.61,239.76 450.61,231.37 452.49,231.37 452.49,221.54 454.36,221.54 454.36,216.15 456.23,216.15 456.23,211.17 458.11,211.17 458.11,207.49 459.98,207.49 459.98,206.01 461.85,206.01 461.85,206.65 463.73,206.65 463.73,210 465.6,210 465.6,214.83 467.47,214.83 467.47,221.22 469.35,221.22 469.35,226.98 471.22,226.98 471.22,232.83 473.09,232.83 473.09,240.32 474.96,240.32 474.96,247.67 476.84,247.67 476.84,253.03 478.71,253.03 478.71,258.8 480.58,258.8 480.58,265.13 482.46,265.13 482.46,271.03 484.33,271.03 484.33,275.68 486.2,275.68 486.2,279.43 488.08,279.43 488.08,282.83 489.95,282.83 489.95,285.44 491.82,285.44 491.82,287.87 493.7,287.87 493.7,289.99 495.57,289.99 495.57,291.66 497.44,291.66 497.44,292.79 499.31,292.79 499.31,293.86 501.19,293.86 501.19,294.53 503.06,294.53 503.06,295.19 504.93,295.19 504.93,295.7 506.81,295.7 506.81,295.89 508.68,295.89 508.68,296.08 510.55,296.08 510.55,298.3" fill="none" stroke="#3f6f94" stroke-width="0.7" stroke-linejoin="round" />
<line x1="463.45" y1="192.3" x2="463.45" y2="298.3" stroke="#4681b0" stroke-width="0.9" />
<line x1="471.04" y1="192.3" x2="471.04" y2="298.3" stroke="#eea260" stroke-width="1.0" />
<line x1="410.9" y1="192.3" x2="410.9" y2="298.3" stroke="#7a7a7a" stroke-width="1" />
<line x1="410.9" y1="298.3" x2="521" y2="298.3" stroke="#7a7a7a" stroke-width="1" />
<line x1="409.1" y1="298.3" x2="410.9" y2="298.3" stroke="#7a7a7a" stroke-width="0.8" />
<text x="408.7" y="300.4" font-size="6.2" text-anchor="end" font-weight="normal" fill="#1a1a1a" stroke="#1a1a1a" stroke-width="0.24" >0.00M</text>
<line x1="409.1" y1="285.01" x2="410.9" y2="285.01" stroke="#7a7a7a" stroke-width="0.8" />
<text x="408.7" y="287.11" font-size="6.2" text-anchor="end" font-weight="normal" fill="#1a1a1a" stroke="#1a1a1a" stroke-width="0.24" >0.05M</text>
<line x1="409.1" y1="271.72" x2="410.9" y2="271.72" stroke="#7a7a7a" stroke-width="0.8" />
<text x="408.7" y="273.82" font-size="6.2" text-anchor="end" font-weight="normal" fill="#1a1a1a" stroke="#1a1a1a" stroke-width="0.24" >0.10M</text>
<line x1="409.1" y1="258.43" x2="410.9" y2="258.43" stroke="#7a7a7a" stroke-width="0.8" />
<text x="408.7" y="260.53" font-size="6.2" text-anchor="end" font-weight="normal" fill="#1a1a1a" stroke="#1a1a1a" stroke-width="0.24" >0.15M</text>
<line x1="409.1" y1="245.14" x2="410.9" y2="245.14" stroke="#7a7a7a" stroke-width="0.8" />
<text x="408.7" y="247.24" font-size="6.2" text-anchor="end" font-weight="normal" fill="#1a1a1a" stroke="#1a1a1a" stroke-width="0.24" >0.20M</text>
<line x1="409.1" y1="231.85" x2="410.9" y2="231.85" stroke="#7a7a7a" stroke-width="0.8" />
<text x="408.7" y="233.95" font-size="6.2" text-anchor="end" font-weight="normal" fill="#1a1a1a" stroke="#1a1a1a" stroke-width="0.24" >0.25M</text>
<line x1="409.1" y1="218.56" x2="410.9" y2="218.56" stroke="#7a7a7a" stroke-width="0.8" />
<text x="408.7" y="220.66" font-size="6.2" text-anchor="end" font-weight="normal" fill="#1a1a1a" stroke="#1a1a1a" stroke-width="0.24" >0.30M</text>
<line x1="409.1" y1="205.27" x2="410.9" y2="205.27" stroke="#7a7a7a" stroke-width="0.8" />
<text x="408.7" y="207.37" font-size="6.2" text-anchor="end" font-weight="normal" fill="#1a1a1a" stroke="#1a1a1a" stroke-width="0.24" >0.35M</text>
<line x1="410.9" y1="298.3" x2="410.9" y2="300.1" stroke="#7a7a7a" stroke-width="0.8" />
<text x="410.9" y="305.5" font-size="6" text-anchor="middle" font-weight="normal" fill="#1a1a1a" stroke="#1a1a1a" stroke-width="0.24" >0</text>
<line x1="432.85" y1="298.3" x2="432.85" y2="300.1" stroke="#7a7a7a" stroke-width="0.8" />
<text x="432.85" y="305.5" font-size="6" text-anchor="middle" font-weight="normal" fill="#1a1a1a" stroke="#1a1a1a" stroke-width="0.24" >5</text>
<line x1="454.8" y1="298.3" x2="454.8" y2="300.1" stroke="#7a7a7a" stroke-width="0.8" />
<text x="454.8" y="305.5" font-size="6" text-anchor="middle" font-weight="normal" fill="#1a1a1a" stroke="#1a1a1a" stroke-width="0.24" >10</text>
<line x1="476.75" y1="298.3" x2="476.75" y2="300.1" stroke="#7a7a7a" stroke-width="0.8" />
<text x="476.75" y="305.5" font-size="6" text-anchor="middle" font-weight="normal" fill="#1a1a1a" stroke="#1a1a1a" stroke-width="0.24" >15</text>
<line x1="498.7" y1="298.3" x2="498.7" y2="300.1" stroke="#7a7a7a" stroke-width="0.8" />
<text x="498.7" y="305.5" font-size="6" text-anchor="middle" font-weight="normal" fill="#1a1a1a" stroke="#1a1a1a" stroke-width="0.24" >20</text>
<line x1="520.65" y1="298.3" x2="520.65" y2="300.1" stroke="#7a7a7a" stroke-width="0.8" />
<text x="520.65" y="305.5" font-size="6" text-anchor="middle" font-weight="normal" fill="#1a1a1a" stroke="#1a1a1a" stroke-width="0.24" >25</text>
<text x="469.2" y="312.3" font-size="6" text-anchor="middle" font-weight="normal" fill="#1a1a1a" stroke="#1a1a1a" stroke-width="0.24" >Speed (km/h)</text>
<text x="387" y="245" font-size="6" text-anchor="middle" font-weight="normal" fill="#1a1a1a" stroke="#1a1a1a" stroke-width="0.24" transform="rotate(-90 387 245)" >Trip count</text>
<line x1="574.9" y1="281.5" x2="684" y2="281.5" stroke="#cdcdcd" stroke-width="1" />
<line x1="574.9" y1="264.5" x2="684" y2="264.5" stroke="#cdcdcd" stroke-width="1" />
<line x1="574.9" y1="246.5" x2="684" y2="246.5" stroke="#cdcdcd" stroke-width="1" />
<line x1="574.9" y1="229.5" x2="684" y2="229.5" stroke="#cdcdcd" stroke-width="1" />
<line x1="574.9" y1="212.5" x2="684" y2="212.5" stroke="#cdcdcd" stroke-width="1" />
<line x1="574.9" y1="195.5" x2="684" y2="195.5" stroke="#cdcdcd" stroke-width="1" />
<line x1="586.5" y1="192.3" x2="586.5" y2="298.3" stroke="#cdcdcd" stroke-width="1" />
<line x1="600.5" y1="192.3" x2="600.5" y2="298.3" stroke="#cdcdcd" stroke-width="1" />
<line x1="614.5" y1="192.3" x2="614.5" y2="298.3" stroke="#cdcdcd" stroke-width="1" />
<line x1="628.5" y1="192.3" x2="628.5" y2="298.3" stroke="#cdcdcd" stroke-width="1" />
<line x1="642.5" y1="192.3" x2="642.5" y2="298.3" stroke="#cdcdcd" stroke-width="1" />
<line x1="656.5" y1="192.3" x2="656.5" y2="298.3" stroke="#cdcdcd" stroke-width="1" />
<line x1="670.5" y1="192.3" x2="670.5" y2="298.3" stroke="#cdcdcd" stroke-width="1" />
<polygon points="575.99,298.3 575.99,298.26 577.95,298.26 577.95,298.22 579.91,298.22 579.91,298.17 581.87,298.17 581.87,298.13 583.83,298.13 583.83,298.09 585.79,298.09 585.79,298.05 587.75,298.05 587.75,297.93 589.71,297.93 589.71,297.81 591.67,297.81 591.67,297.69 593.63,297.69 593.63,297.51 595.59,297.51 595.59,297.22 597.55,297.22 597.55,296.94 599.51,296.94 599.51,296.65 601.47,296.65 601.47,295.91 603.43,295.91 603.43,295.06 605.39,295.06 605.39,293.59 607.35,293.59 607.35,291.91 609.31,291.91 609.31,290.07 611.27,290.07 611.27,287.73 613.23,287.73 613.23,283.76 615.19,283.76 615.19,276.69 617.15,276.69 617.15,266.82 619.11,266.82 619.11,255.95 621.07,255.95 621.07,248.2 623.03,248.2 623.03,240.73 624.99,240.73 624.99,229.76 626.95,229.76 626.95,212.63 628.91,212.63 628.91,216.91 630.87,216.91 630.87,234.77 632.83,234.77 632.83,244.93 634.79,244.93 634.79,250.12 636.75,250.12 636.75,260.46 638.71,260.46 638.71,266.35 640.67,266.35 640.67,274.03 642.63,274.03 642.63,281.6 644.59,281.6 644.59,286.21 646.55,286.21 646.55,289.07 648.51,289.07 648.51,292.36 650.47,292.36 650.47,294.52 652.43,294.52 652.43,295.52 654.39,295.52 654.39,296.52 656.35,296.52 656.35,296.99 658.31,296.99 658.31,297.43 660.27,297.43 660.27,297.67 662.23,297.67 662.23,297.85 664.19,297.85 664.19,298.03 666.15,298.03 666.15,298.07 668.11,298.07 668.11,298.1 670.07,298.1 670.07,298.13 672.03,298.13 672.03,298.16 673.99,298.16 673.99,298.19 675.95,298.19 675.95,298.22 677.91,298.22 677.91,298.24 679.87,298.24 679.87,298.27 681.83,298.27 681.83,298.3" fill="#ff7f0e" stroke="none" fill-opacity="0.23"/>
<polygon points="575.99,298.3 575.99,298.28 577.95,298.28 577.95,298.26 579.91,298.26 579.91,298.24 581.87,298.24 581.87,298.22 583.83,298.22 583.83,298.2 585.79,298.2 585.79,298.19 587.75,298.19 587.75,298.17 589.71,298.17 589.71,298.15 591.67,298.15 591.67,298.12 593.63,298.12 593.63,298.03 595.59,298.03 595.59,297.94 597.55,297.94 597.55,297.83 599.51,297.83 599.51,297.63 601.47,297.63 601.47,297.41 603.43,297.41 603.43,296.99 605.39,296.99 605.39,296.42 607.35,296.42 607.35,295.68 609.31,295.68 609.31,294.75 611.27,294.75 611.27,293.09 613.23,293.09 613.23,290.67 615.19,290.67 615.19,287.7 617.15,287.7 617.15,281.1 619.11,281.1 619.11,271.95 621.07,271.95 621.07,260.07 623.03,260.07 623.03,243.36 624.99,243.36 624.99,217.71 626.95,217.71 626.95,192.93 628.91,192.93 628.91,205.78 630.87,205.78 630.87,236.62 632.83,236.62 632.83,260.93 634.79,260.93 634.79,274.31 636.75,274.31 636.75,284.48 638.71,284.48 638.71,289.88 640.67,289.88 640.67,293.34 642.63,293.34 642.63,295.01 644.59,295.01 644.59,296 646.55,296 646.55,296.68 648.51,296.68 648.51,297.17 650.47,297.17 650.47,297.49 652.43,297.49 652.43,297.74 654.39,297.74 654.39,297.86 656.35,297.86 656.35,297.98 658.31,297.98 658.31,298.1 660.27,298.1 660.27,298.14 662.23,298.14 662.23,298.15 664.19,298.15 664.19,298.17 666.15,298.17 666.15,298.18 668.11,298.18 668.11,298.2 670.07,298.2 670.07,298.21 672.03,298.21 672.03,298.23 673.99,298.23 673.99,298.24 675.95,298.24 675.95,298.26 677.91,298.26 677.91,298.27 679.87,298.27 679.87,298.29 681.83,298.29 681.83,298.3" fill="#1f77b4" stroke="none" fill-opacity="0.25"/>
<polyline points="575.99,298.3 575.99,298.26 577.95,298.26 577.95,298.22 579.91,298.22 579.91,298.17 581.87,298.17 581.87,298.13 583.83,298.13 583.83,298.09 585.79,298.09 585.79,298.05 587.75,298.05 587.75,297.93 589.71,297.93 589.71,297.81 591.67,297.81 591.67,297.69 593.63,297.69 593.63,297.51 595.59,297.51 595.59,297.22 597.55,297.22 597.55,296.94 599.51,296.94 599.51,296.65 601.47,296.65 601.47,295.91 603.43,295.91 603.43,295.06 605.39,295.06 605.39,293.59 607.35,293.59 607.35,291.91 609.31,291.91 609.31,290.07 611.27,290.07 611.27,287.73 613.23,287.73 613.23,283.76 615.19,283.76 615.19,276.69 617.15,276.69 617.15,266.82 619.11,266.82 619.11,255.95 621.07,255.95 621.07,248.2 623.03,248.2 623.03,240.73 624.99,240.73 624.99,229.76 626.95,229.76 626.95,212.63 628.91,212.63 628.91,216.91 630.87,216.91 630.87,234.77 632.83,234.77 632.83,244.93 634.79,244.93 634.79,250.12 636.75,250.12 636.75,260.46 638.71,260.46 638.71,266.35 640.67,266.35 640.67,274.03 642.63,274.03 642.63,281.6 644.59,281.6 644.59,286.21 646.55,286.21 646.55,289.07 648.51,289.07 648.51,292.36 650.47,292.36 650.47,294.52 652.43,294.52 652.43,295.52 654.39,295.52 654.39,296.52 656.35,296.52 656.35,296.99 658.31,296.99 658.31,297.43 660.27,297.43 660.27,297.67 662.23,297.67 662.23,297.85 664.19,297.85 664.19,298.03 666.15,298.03 666.15,298.07 668.11,298.07 668.11,298.1 670.07,298.1 670.07,298.13 672.03,298.13 672.03,298.16 673.99,298.16 673.99,298.19 675.95,298.19 675.95,298.22 677.91,298.22 677.91,298.24 679.87,298.24 679.87,298.27 681.83,298.27 681.83,298.3" fill="none" stroke="#f2ad70" stroke-width="0.7" stroke-linejoin="round" />
<polyline points="575.99,298.3 575.99,298.28 577.95,298.28 577.95,298.26 579.91,298.26 579.91,298.24 581.87,298.24 581.87,298.22 583.83,298.22 583.83,298.2 585.79,298.2 585.79,298.19 587.75,298.19 587.75,298.17 589.71,298.17 589.71,298.15 591.67,298.15 591.67,298.12 593.63,298.12 593.63,298.03 595.59,298.03 595.59,297.94 597.55,297.94 597.55,297.83 599.51,297.83 599.51,297.63 601.47,297.63 601.47,297.41 603.43,297.41 603.43,296.99 605.39,296.99 605.39,296.42 607.35,296.42 607.35,295.68 609.31,295.68 609.31,294.75 611.27,294.75 611.27,293.09 613.23,293.09 613.23,290.67 615.19,290.67 615.19,287.7 617.15,287.7 617.15,281.1 619.11,281.1 619.11,271.95 621.07,271.95 621.07,260.07 623.03,260.07 623.03,243.36 624.99,243.36 624.99,217.71 626.95,217.71 626.95,192.93 628.91,192.93 628.91,205.78 630.87,205.78 630.87,236.62 632.83,236.62 632.83,260.93 634.79,260.93 634.79,274.31 636.75,274.31 636.75,284.48 638.71,284.48 638.71,289.88 640.67,289.88 640.67,293.34 642.63,293.34 642.63,295.01 644.59,295.01 644.59,296 646.55,296 646.55,296.68 648.51,296.68 648.51,297.17 650.47,297.17 650.47,297.49 652.43,297.49 652.43,297.74 654.39,297.74 654.39,297.86 656.35,297.86 656.35,297.98 658.31,297.98 658.31,298.1 660.27,298.1 660.27,298.14 662.23,298.14 662.23,298.15 664.19,298.15 664.19,298.17 666.15,298.17 666.15,298.18 668.11,298.18 668.11,298.2 670.07,298.2 670.07,298.21 672.03,298.21 672.03,298.23 673.99,298.23 673.99,298.24 675.95,298.24 675.95,298.26 677.91,298.26 677.91,298.27 679.87,298.27 679.87,298.29 681.83,298.29 681.83,298.3" fill="none" stroke="#3f6f94" stroke-width="0.7" stroke-linejoin="round" />
<line x1="627.23" y1="192.3" x2="627.23" y2="298.3" stroke="#4681b0" stroke-width="0.9" />
<line x1="629" y1="192.3" x2="629" y2="298.3" stroke="#eea260" stroke-width="1.0" />
<line x1="574.9" y1="192.3" x2="574.9" y2="298.3" stroke="#7a7a7a" stroke-width="1" />
<line x1="574.9" y1="298.3" x2="684" y2="298.3" stroke="#7a7a7a" stroke-width="1" />
<line x1="573.1" y1="298.3" x2="574.9" y2="298.3" stroke="#7a7a7a" stroke-width="0.8" />
<text x="571.1" y="300.4" font-size="6" text-anchor="end" font-weight="normal" fill="#1a1a1a" stroke="#1a1a1a" stroke-width="0.24" >0.00M</text>
<line x1="573.1" y1="281.17" x2="574.9" y2="281.17" stroke="#7a7a7a" stroke-width="0.8" />
<text x="571.1" y="283.27" font-size="6" text-anchor="end" font-weight="normal" fill="#1a1a1a" stroke="#1a1a1a" stroke-width="0.24" >0.20M</text>
<line x1="573.1" y1="264.03" x2="574.9" y2="264.03" stroke="#7a7a7a" stroke-width="0.8" />
<text x="571.1" y="266.13" font-size="6" text-anchor="end" font-weight="normal" fill="#1a1a1a" stroke="#1a1a1a" stroke-width="0.24" >0.40M</text>
<line x1="573.1" y1="246.9" x2="574.9" y2="246.9" stroke="#7a7a7a" stroke-width="0.8" />
<text x="571.1" y="249" font-size="6" text-anchor="end" font-weight="normal" fill="#1a1a1a" stroke="#1a1a1a" stroke-width="0.24" >0.60M</text>
<line x1="573.1" y1="229.76" x2="574.9" y2="229.76" stroke="#7a7a7a" stroke-width="0.8" />
<text x="571.1" y="231.86" font-size="6" text-anchor="end" font-weight="normal" fill="#1a1a1a" stroke="#1a1a1a" stroke-width="0.24" >0.80M</text>
<line x1="573.1" y1="212.63" x2="574.9" y2="212.63" stroke="#7a7a7a" stroke-width="0.8" />
<text x="571.1" y="214.73" font-size="6" text-anchor="end" font-weight="normal" fill="#1a1a1a" stroke="#1a1a1a" stroke-width="0.24" >1.00M</text>
<line x1="573.1" y1="195.5" x2="574.9" y2="195.5" stroke="#7a7a7a" stroke-width="0.8" />
<text x="571.1" y="197.6" font-size="6" text-anchor="end" font-weight="normal" fill="#1a1a1a" stroke="#1a1a1a" stroke-width="0.24" >1.20M</text>
<line x1="586.91" y1="298.3" x2="586.91" y2="300.1" stroke="#7a7a7a" stroke-width="0.8" />
<text x="586.91" y="305.5" font-size="6" text-anchor="middle" font-weight="normal" fill="#1a1a1a" stroke="#1a1a1a" stroke-width="0.24" >-150</text>
<line x1="600.91" y1="298.3" x2="600.91" y2="300.1" stroke="#7a7a7a" stroke-width="0.8" />
<text x="600.91" y="305.5" font-size="6" text-anchor="middle" font-weight="normal" fill="#1a1a1a" stroke="#1a1a1a" stroke-width="0.24" >-100</text>
<line x1="614.91" y1="298.3" x2="614.91" y2="300.1" stroke="#7a7a7a" stroke-width="0.8" />
<text x="614.91" y="305.5" font-size="6" text-anchor="middle" font-weight="normal" fill="#1a1a1a" stroke="#1a1a1a" stroke-width="0.24" >-50</text>
<line x1="628.91" y1="298.3" x2="628.91" y2="300.1" stroke="#7a7a7a" stroke-width="0.8" />
<text x="628.91" y="305.5" font-size="6" text-anchor="middle" font-weight="normal" fill="#1a1a1a" stroke="#1a1a1a" stroke-width="0.24" >0</text>
<line x1="642.91" y1="298.3" x2="642.91" y2="300.1" stroke="#7a7a7a" stroke-width="0.8" />
<text x="642.91" y="305.5" font-size="6" text-anchor="middle" font-weight="normal" fill="#1a1a1a" stroke="#1a1a1a" stroke-width="0.24" >50</text>
<line x1="656.91" y1="298.3" x2="656.91" y2="300.1" stroke="#7a7a7a" stroke-width="0.8" />
<text x="656.91" y="305.5" font-size="6" text-anchor="middle" font-weight="normal" fill="#1a1a1a" stroke="#1a1a1a" stroke-width="0.24" >100</text>
<line x1="670.91" y1="298.3" x2="670.91" y2="300.1" stroke="#7a7a7a" stroke-width="0.8" />
<text x="670.91" y="305.5" font-size="6" text-anchor="middle" font-weight="normal" fill="#1a1a1a" stroke="#1a1a1a" stroke-width="0.24" >150</text>
<text x="632" y="310.7" font-size="6" text-anchor="middle" font-weight="normal" fill="#1a1a1a" stroke="#1a1a1a" stroke-width="0.24" >Inclination (m)</text>
<text x="549.5" y="242.8" font-size="6" text-anchor="middle" font-weight="normal" fill="#1a1a1a" stroke="#1a1a1a" stroke-width="0.24" transform="rotate(-90 549.5 242.8)" >Trip count</text>
</svg></body></html>
